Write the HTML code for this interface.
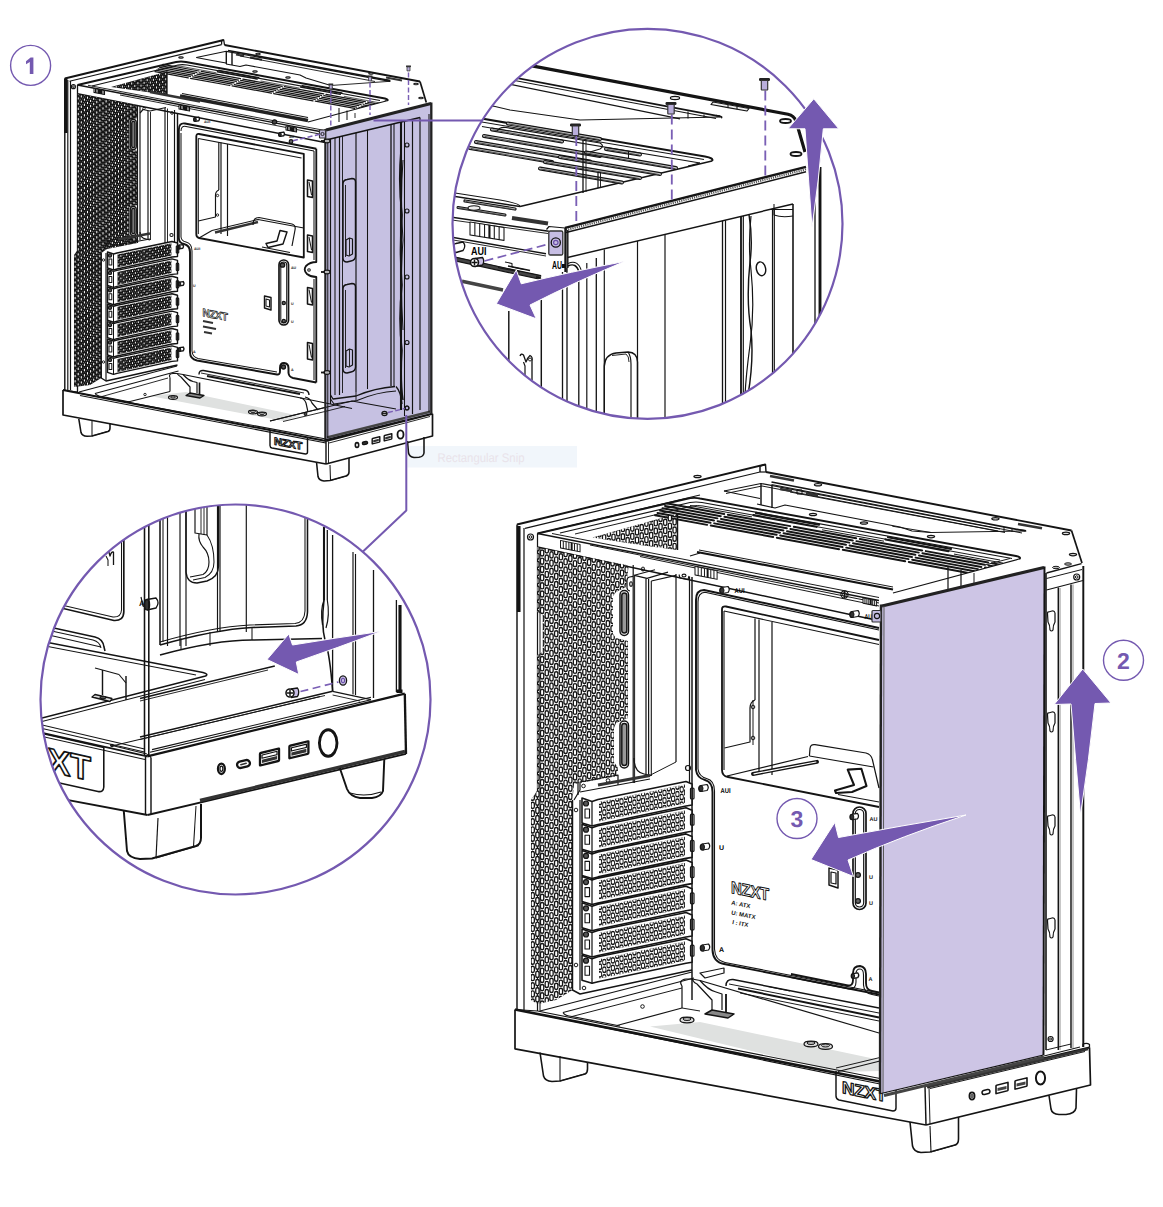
<!DOCTYPE html>
<html><head><meta charset="utf-8"><title>NZXT panel removal</title>
<style>html,body{margin:0;padding:0;background:#fff;overflow:hidden;}svg{display:block}text{text-rendering:geometricPrecision;}</style></head>
<body>
<svg width="1163" height="1207" viewBox="0 0 1163 1207" font-family="Liberation Sans, sans-serif" stroke-linecap="butt" stroke-linejoin="round">
<defs>
<clipPath id="c1"><circle cx="647.5" cy="223.8" r="195"/></clipPath>
<clipPath id="c2"><circle cx="235.5" cy="699.5" r="195"/></clipPath>
</defs>
<rect width="1163" height="1207" fill="#fff"/>
<rect x="407.5" y="446" width="169.5" height="21.5" rx="0" fill="#f1f6fb" stroke="none" stroke-width="0" />
<text x="437.5" y="461.5" font-size="12.5" fill="#e9e3ea" font-weight="normal" text-anchor="start" textLength="87" lengthAdjust="spacingAndGlyphs">Rectangular Snip</text>
<path d="M150 396 L186 392 L300 416 L283 421 Z" fill="#dfe1e0" stroke="none" stroke-width="0" />
<line x1="64.8" y1="78.5" x2="64.8" y2="390" stroke="#141414" stroke-width="1.43" />
<line x1="65.8" y1="78.5" x2="65.8" y2="133" stroke="#141414" stroke-width="3.38" />
<line x1="67.8" y1="80" x2="67.8" y2="390" stroke="#141414" stroke-width="1.17" />
<line x1="70.5" y1="81" x2="70.5" y2="390" stroke="#141414" stroke-width="1.17" />
<line x1="77.5" y1="85" x2="77.5" y2="392" stroke="#141414" stroke-width="1.3" />
<circle cx="73.4" cy="86.7" r="2" fill="none" stroke="#141414" stroke-width="1.17" />
<circle cx="73.4" cy="86.7" r="0.8" fill="none" stroke="#141414" stroke-width="0.91" />
<line x1="64.8" y1="78.5" x2="223.75" y2="40" stroke="#141414" stroke-width="1.95" />
<line x1="69.5" y1="81.2" x2="221.6" y2="44.6" stroke="#141414" stroke-width="1.17" />
<path d="M221.6 44.6 L221.6 40.6 L223.75 40 L224.5 45" fill="none" stroke="#141414" stroke-width="1.3" />
<line x1="224.5" y1="45" x2="420" y2="81.5" stroke="#141414" stroke-width="1.95" />
<line x1="420" y1="81.5" x2="426.3" y2="102.5" stroke="#141414" stroke-width="1.69" />
<path d="M196.3 57.5 L226.3 51.3 L390 81.3" fill="none" stroke="#141414" stroke-width="1.17" />
<path d="M196.3 57.5 L212 60.5 L226 63" fill="none" stroke="#141414" stroke-width="1.17" />
<line x1="226.3" y1="51.3" x2="226.3" y2="64" stroke="#141414" stroke-width="1.43" />
<line x1="232" y1="52.5" x2="232" y2="65" stroke="#141414" stroke-width="1.43" />
<path d="M226 64 L240 66.5 L246 65 L300 75 L306 78 L330.8 85.5" fill="none" stroke="#141414" stroke-width="1.04" />
<line x1="236" y1="54.5" x2="244" y2="56" stroke="#333" stroke-width="2.08" />
<line x1="250" y1="57.5" x2="262" y2="59.8" stroke="#333" stroke-width="2.08" />
<line x1="228" y1="50.5" x2="390" y2="80.5" stroke="#141414" stroke-width="1.69" />
<line x1="240" y1="56" x2="375" y2="81.5" stroke="#141414" stroke-width="0.91" />
<line x1="330.8" y1="85.5" x2="390" y2="81.3" stroke="#141414" stroke-width="0.91" />
<path d="M386 80 Q391 80.2 390 81.5" fill="none" stroke="#141414" stroke-width="1.17" />
<ellipse cx="181" cy="57.5" rx="2.3" ry="0.8" fill="#ccc" stroke="#141414" stroke-width="1.04" />
<ellipse cx="258" cy="54" rx="2.3" ry="0.8" fill="#ccc" stroke="#141414" stroke-width="1.04" />
<ellipse cx="255" cy="71.5" rx="2.3" ry="0.8" fill="#ccc" stroke="#141414" stroke-width="1.04" />
<ellipse cx="288" cy="77.5" rx="2.3" ry="0.8" fill="#ccc" stroke="#141414" stroke-width="1.04" />
<ellipse cx="371" cy="73.5" rx="2.3" ry="0.8" fill="#ccc" stroke="#141414" stroke-width="1.04" />
<ellipse cx="330" cy="88" rx="2.3" ry="0.8" fill="#ccc" stroke="#141414" stroke-width="1.04" />
<ellipse cx="416" cy="84" rx="2.3" ry="0.8" fill="#ccc" stroke="#141414" stroke-width="1.04" />
<ellipse cx="421" cy="98" rx="2.3" ry="0.8" fill="#ccc" stroke="#141414" stroke-width="1.04" />
<line x1="386" y1="77.5" x2="402" y2="80.5" stroke="#333" stroke-width="2.08" />
<path d="M77.5 85 L176 62 Q181 61 186 62 L385 98.5 Q389 99.5 387 100.8" fill="none" stroke="#141414" stroke-width="1.95" />
<path d="M92 86 L178 65 Q182 64.3 187 65 L380 100.5" fill="none" stroke="#141414" stroke-width="1.17" />
<line x1="387" y1="100.8" x2="308" y2="122" stroke="#141414" stroke-width="1.17" />
<clipPath id="vb1"><path d="M120 50 L395 99 L387 100.8 L308 122 L120 88 Z"/></clipPath><g clip-path="url(#vb1)">
<line x1="162.88" y1="64.36" x2="198.97" y2="71" stroke="#161616" stroke-width="1.27" stroke-linecap="round"/>
<line x1="201.23" y1="71.42" x2="240.55" y2="78.65" stroke="#161616" stroke-width="1.27" stroke-linecap="round"/>
<line x1="242.81" y1="79.07" x2="282.13" y2="86.3" stroke="#161616" stroke-width="1.27" stroke-linecap="round"/>
<line x1="284.39" y1="86.72" x2="323.71" y2="93.95" stroke="#161616" stroke-width="1.27" stroke-linecap="round"/>
<line x1="325.97" y1="94.37" x2="365.29" y2="101.6" stroke="#161616" stroke-width="1.27" stroke-linecap="round"/>
<line x1="367.55" y1="102.02" x2="405.2" y2="108.95" stroke="#161616" stroke-width="1.27" stroke-linecap="round"/>
<line x1="161.3" y1="65.83" x2="196.82" y2="72.37" stroke="#161616" stroke-width="1.27" stroke-linecap="round"/>
<line x1="199.09" y1="72.79" x2="238.4" y2="80.02" stroke="#161616" stroke-width="1.27" stroke-linecap="round"/>
<line x1="240.67" y1="80.44" x2="279.98" y2="87.67" stroke="#161616" stroke-width="1.27" stroke-linecap="round"/>
<line x1="282.25" y1="88.09" x2="321.56" y2="95.32" stroke="#161616" stroke-width="1.27" stroke-linecap="round"/>
<line x1="323.83" y1="95.74" x2="363.14" y2="102.97" stroke="#161616" stroke-width="1.27" stroke-linecap="round"/>
<line x1="365.41" y1="103.39" x2="405.2" y2="110.71" stroke="#161616" stroke-width="1.27" stroke-linecap="round"/>
<line x1="159.72" y1="67.31" x2="194.68" y2="73.74" stroke="#161616" stroke-width="1.27" stroke-linecap="round"/>
<line x1="196.95" y1="74.16" x2="236.26" y2="81.39" stroke="#161616" stroke-width="1.27" stroke-linecap="round"/>
<line x1="238.53" y1="81.81" x2="277.84" y2="89.04" stroke="#161616" stroke-width="1.27" stroke-linecap="round"/>
<line x1="280.11" y1="89.46" x2="319.42" y2="96.69" stroke="#161616" stroke-width="1.27" stroke-linecap="round"/>
<line x1="321.69" y1="97.11" x2="361" y2="104.34" stroke="#161616" stroke-width="1.27" stroke-linecap="round"/>
<line x1="363.27" y1="104.76" x2="402.58" y2="111.99" stroke="#161616" stroke-width="1.27" stroke-linecap="round"/>
<line x1="404.85" y1="112.41" x2="405.2" y2="112.48" stroke="#161616" stroke-width="1.27" stroke-linecap="round"/>
<line x1="158.15" y1="68.78" x2="192.54" y2="75.11" stroke="#161616" stroke-width="1.27" stroke-linecap="round"/>
<line x1="194.81" y1="75.53" x2="234.12" y2="82.76" stroke="#161616" stroke-width="1.27" stroke-linecap="round"/>
<line x1="236.39" y1="83.18" x2="275.7" y2="90.41" stroke="#161616" stroke-width="1.27" stroke-linecap="round"/>
<line x1="277.97" y1="90.83" x2="317.28" y2="98.06" stroke="#161616" stroke-width="1.27" stroke-linecap="round"/>
<line x1="319.55" y1="98.48" x2="358.86" y2="105.71" stroke="#161616" stroke-width="1.27" stroke-linecap="round"/>
<line x1="361.13" y1="106.13" x2="400.44" y2="113.36" stroke="#161616" stroke-width="1.27" stroke-linecap="round"/>
<line x1="402.71" y1="113.78" x2="405.2" y2="114.24" stroke="#161616" stroke-width="1.27" stroke-linecap="round"/>
<line x1="156.57" y1="70.26" x2="190.4" y2="76.48" stroke="#161616" stroke-width="1.27" stroke-linecap="round"/>
<line x1="192.67" y1="76.9" x2="231.98" y2="84.13" stroke="#161616" stroke-width="1.27" stroke-linecap="round"/>
<line x1="234.25" y1="84.55" x2="273.56" y2="91.78" stroke="#161616" stroke-width="1.27" stroke-linecap="round"/>
<line x1="275.83" y1="92.2" x2="315.14" y2="99.43" stroke="#161616" stroke-width="1.27" stroke-linecap="round"/>
<line x1="317.41" y1="99.85" x2="356.72" y2="107.08" stroke="#161616" stroke-width="1.27" stroke-linecap="round"/>
<line x1="358.99" y1="107.5" x2="398.3" y2="114.73" stroke="#161616" stroke-width="1.27" stroke-linecap="round"/>
<line x1="400.57" y1="115.15" x2="405.2" y2="116" stroke="#161616" stroke-width="1.27" stroke-linecap="round"/>
<line x1="155" y1="71.73" x2="188.26" y2="77.85" stroke="#161616" stroke-width="1.27" stroke-linecap="round"/>
<line x1="190.52" y1="78.27" x2="229.84" y2="85.5" stroke="#161616" stroke-width="1.27" stroke-linecap="round"/>
<line x1="232.1" y1="85.92" x2="271.42" y2="93.15" stroke="#161616" stroke-width="1.27" stroke-linecap="round"/>
<line x1="273.68" y1="93.57" x2="313" y2="100.8" stroke="#161616" stroke-width="1.27" stroke-linecap="round"/>
<line x1="315.26" y1="101.22" x2="354.58" y2="108.45" stroke="#161616" stroke-width="1.27" stroke-linecap="round"/>
<line x1="356.84" y1="108.87" x2="396.16" y2="116.1" stroke="#161616" stroke-width="1.27" stroke-linecap="round"/>
<line x1="398.42" y1="116.52" x2="405.2" y2="117.77" stroke="#161616" stroke-width="1.27" stroke-linecap="round"/>
<line x1="219" y1="70.34" x2="258.69" y2="77.64" stroke="#161616" stroke-width="1.43" stroke-linecap="round"/>
<line x1="217.43" y1="71.75" x2="257.12" y2="79.05" stroke="#161616" stroke-width="1.43" stroke-linecap="round"/>
<line x1="302.16" y1="85.64" x2="341.85" y2="92.94" stroke="#161616" stroke-width="1.43" stroke-linecap="round"/>
<line x1="300.58" y1="87.05" x2="340.27" y2="94.36" stroke="#161616" stroke-width="1.43" stroke-linecap="round"/>
<line x1="385.32" y1="100.94" x2="425.01" y2="108.25" stroke="#161616" stroke-width="1.43" stroke-linecap="round"/>
<line x1="383.74" y1="102.35" x2="423.43" y2="109.66" stroke="#161616" stroke-width="1.43" stroke-linecap="round"/>
<line x1="177.42" y1="65.65" x2="216.48" y2="72.84" stroke="#141414" stroke-width="0.7" />
<line x1="260.58" y1="80.95" x2="299.64" y2="88.14" stroke="#141414" stroke-width="0.7" />
<line x1="343.74" y1="96.25" x2="380" y2="102.92" stroke="#141414" stroke-width="0.7" />
</g>
<line x1="339" y1="108" x2="339" y2="122" stroke="#141414" stroke-width="1.04" />
<line x1="347" y1="110.5" x2="347" y2="120" stroke="#141414" stroke-width="1.04" />
<line x1="355" y1="113" x2="355" y2="118" stroke="#141414" stroke-width="0.91" />
<clipPath id="mc2"><path d="M111 87 L167 71.5 L167 95 L140 91 Z"/></clipPath>
<g clip-path="url(#mc2)">
<path d="M110 60V96M113.1 62.45V96M116.2 59.69V96M119.3 62.14V96M122.4 59.38V96M125.5 61.83V96M128.6 59.07V96M131.7 61.52V96M134.8 58.76V96M137.9 61.21V96M141 58.45V96M144.1 60.9V96M147.2 58.14V96M150.3 60.59V96M153.4 57.83V96M156.5 60.28V96M159.6 57.52V96M162.7 59.97V96M165.8 57.21V96M168.9 59.66V96" fill="none" stroke="#161616" stroke-width="3.4" stroke-linecap="round" stroke-dasharray="2.4 2.8"/>
<path d="M110 60.58V96M113.1 63.02V96M116.2 60.27V96M119.3 62.71V96M122.4 59.96V96M125.5 62.4V96M128.6 59.65V96M131.7 62.09V96M134.8 59.34V96M137.9 61.78V96M141 59.03V96M144.1 61.47V96M147.2 58.72V96M150.3 61.16V96M153.4 58.41V96M156.5 60.85V96M159.6 58.1V96M162.7 60.54V96M165.8 57.79V96M168.9 60.23V96" fill="none" stroke="#fff" stroke-width="0.95" stroke-linecap="round" stroke-dasharray="1.25 3.95"/>
</g>
<line x1="167" y1="71.5" x2="167" y2="95" stroke="#141414" stroke-width="1.3" />
<line x1="180" y1="96" x2="308" y2="120.5" stroke="#222" stroke-width="3.38" />
<line x1="182" y1="93.5" x2="308" y2="117.5" stroke="#141414" stroke-width="1.04" />
<line x1="150" y1="92" x2="200" y2="101.5" stroke="#333" stroke-width="2.34" />
<line x1="77.5" y1="85" x2="325" y2="132.5" stroke="#141414" stroke-width="1.43" />
<line x1="77.5" y1="93.75" x2="325" y2="142.5" stroke="#141414" stroke-width="1.43" />
<line x1="88" y1="85.3" x2="325" y2="130.5" stroke="#141414" stroke-width="0.91" />
<line x1="120" y1="95" x2="322" y2="134.5" stroke="#141414" stroke-width="0.91" />
<g transform="translate(94 88.5) skewY(11.03)">
<rect x="0" y="0" width="10.54" height="4.03" rx="0" fill="#fff" stroke="#141414" stroke-width="1.04" />
<line x1="1.51" y1="0" x2="1.51" y2="4.03" stroke="#141414" stroke-width="1.04" />
<line x1="3.01" y1="0" x2="3.01" y2="4.03" stroke="#141414" stroke-width="1.04" />
<line x1="4.52" y1="0" x2="4.52" y2="4.03" stroke="#141414" stroke-width="1.04" />
<line x1="6.02" y1="0" x2="6.02" y2="4.03" stroke="#141414" stroke-width="2.08" />
<line x1="7.53" y1="0" x2="7.53" y2="4.03" stroke="#141414" stroke-width="1.04" />
<line x1="9.03" y1="0" x2="9.03" y2="4.03" stroke="#141414" stroke-width="1.04" />
</g>
<g transform="translate(179 105) skewY(11.03)">
<rect x="0" y="0" width="10.54" height="4.03" rx="0" fill="#fff" stroke="#141414" stroke-width="1.04" />
<line x1="1.51" y1="0" x2="1.51" y2="4.03" stroke="#141414" stroke-width="1.04" />
<line x1="3.01" y1="0" x2="3.01" y2="4.03" stroke="#141414" stroke-width="1.04" />
<line x1="4.52" y1="0" x2="4.52" y2="4.03" stroke="#141414" stroke-width="1.04" />
<line x1="6.02" y1="0" x2="6.02" y2="4.03" stroke="#141414" stroke-width="2.08" />
<line x1="7.53" y1="0" x2="7.53" y2="4.03" stroke="#141414" stroke-width="1.04" />
<line x1="9.03" y1="0" x2="9.03" y2="4.03" stroke="#141414" stroke-width="1.04" />
</g>
<g transform="translate(286 126) skewY(11.03)">
<rect x="0" y="0" width="10.54" height="4.03" rx="0" fill="#fff" stroke="#141414" stroke-width="1.04" />
<line x1="1.51" y1="0" x2="1.51" y2="4.03" stroke="#141414" stroke-width="1.04" />
<line x1="3.01" y1="0" x2="3.01" y2="4.03" stroke="#141414" stroke-width="1.04" />
<line x1="4.52" y1="0" x2="4.52" y2="4.03" stroke="#141414" stroke-width="1.04" />
<line x1="6.02" y1="0" x2="6.02" y2="4.03" stroke="#141414" stroke-width="2.08" />
<line x1="7.53" y1="0" x2="7.53" y2="4.03" stroke="#141414" stroke-width="1.04" />
<line x1="9.03" y1="0" x2="9.03" y2="4.03" stroke="#141414" stroke-width="1.04" />
</g>
<circle cx="274.5" cy="122" r="2.2" fill="#444" stroke="#141414" stroke-width="1.17" />
<clipPath id="mc3"><path d="M77.5 93.75 L137.5 105.5 L137.5 118 L129.5 120 L129.5 149 L137.5 151 L137.5 205 L129.5 207 L129.5 235 L137.5 237 L137.5 243 L107 249 L101.25 253 L101.25 378 L90 385 L74 387 L74 255 L77.5 250 Z"/></clipPath>
<g clip-path="url(#mc3)">
<path d="M72 70V392M75.1 73.2V392M78.2 71.21V392M81.3 74.41V392M84.4 72.42V392M87.5 75.62V392M90.6 73.63V392M93.7 76.83V392M96.8 74.84V392M99.9 78.04V392M103 76.04V392M106.1 79.25V392M109.2 77.25V392M112.3 80.46V392M115.4 78.46V392M118.5 81.67V392M121.6 79.67V392M124.7 82.88V392M127.8 80.88V392M130.9 84.09V392M134 82.09V392M137.1 85.29V392" fill="none" stroke="#161616" stroke-width="3.4" stroke-linecap="round" stroke-dasharray="2.4 2.8"/>
<path d="M72 70.53V392M75.1 73.73V392M78.2 71.73V392M81.3 74.94V392M84.4 72.94V392M87.5 76.15V392M90.6 74.15V392M93.7 77.36V392M96.8 75.36V392M99.9 78.57V392M103 76.57V392M106.1 79.77V392M109.2 77.78V392M112.3 80.98V392M115.4 78.99V392M118.5 82.19V392M121.6 80.2V392M124.7 83.4V392M127.8 81.41V392M130.9 84.61V392M134 82.61V392M137.1 85.82V392" fill="none" stroke="#fff" stroke-width="1.05" stroke-linecap="round" stroke-dasharray="1.35 3.85"/>
</g>
<rect x="130.3" y="119.5" width="6" height="30" rx="3" fill="#fff" stroke="#141414" stroke-width="1.3" />
<rect x="131.7" y="121.3" width="3.2" height="26.4" rx="1.6" fill="#777" stroke="#141414" stroke-width="1.3" />
<rect x="130.3" y="206.5" width="6" height="29" rx="3" fill="#fff" stroke="#141414" stroke-width="1.3" />
<rect x="131.7" y="208.3" width="3.2" height="25.4" rx="1.6" fill="#777" stroke="#141414" stroke-width="1.3" />
<line x1="137.5" y1="105.5" x2="137.5" y2="243" stroke="#141414" stroke-width="1.17" />
<line x1="140" y1="106" x2="140" y2="240" stroke="#141414" stroke-width="1.17" />
<line x1="148" y1="111" x2="148" y2="240" stroke="#141414" stroke-width="1.17" />
<line x1="150.5" y1="112" x2="150.5" y2="240" stroke="#141414" stroke-width="0.91" />
<line x1="165" y1="108" x2="165" y2="243" stroke="#141414" stroke-width="1.17" />
<line x1="167.5" y1="108.5" x2="167.5" y2="243" stroke="#141414" stroke-width="0.91" />
<line x1="174.5" y1="110" x2="174.5" y2="244" stroke="#141414" stroke-width="1.17" />
<path d="M140 113 L143 109.5 L150 111 L166 107.5" fill="none" stroke="#141414" stroke-width="1.17" />
<circle cx="144" cy="108.5" r="1.2" fill="none" stroke="#141414" stroke-width="0.91" />
<circle cx="172" cy="113" r="1.3" fill="none" stroke="#141414" stroke-width="0.91" />
<circle cx="171.5" cy="235" r="1.6" fill="none" stroke="#141414" stroke-width="1.04" />
<path d="M140 232 Q140 238 146 239 L150 240" fill="none" stroke="#141414" stroke-width="1.17" />
<line x1="177.5" y1="113" x2="177.5" y2="250" stroke="#141414" stroke-width="1.43" />
<path d="M178.8 130 Q178.8 122.5 185 123.5 L316.3 148.8" fill="none" stroke="#141414" stroke-width="1.95" />
<path d="M181 131 Q181 125.5 186 126.5 L314 151" fill="none" stroke="#141414" stroke-width="1.04" />
<path d="M178.8 130 L178.8 238 Q179 243 184 244 Q190 245.5 190 252 L190 352 Q190 359 197 360.5 L277 374.5 Q280 375 280 371 L280 368 Q280 363 284 363 Q288.5 363.5 288.5 368 L288.5 373 Q289 377 293 378 L316.3 382.5" fill="none" stroke="#141414" stroke-width="1.95" />
<path d="M181 133 L181 237 Q181.5 241 186 242 Q192 243.5 192 251 L192 351 Q192.5 357 198 358.5 L277 372" fill="none" stroke="#141414" stroke-width="1.04" />
<path d="M316.3 148.8 L316.3 262 Q310 262 306 266 Q303 270 307 274 Q311 277 316.3 277 L316.3 382.5" fill="none" stroke="#141414" stroke-width="1.82" />
<path d="M314 151 L314 260" fill="none" stroke="#141414" stroke-width="1.04" />
<path d="M314 279 L314 380" fill="none" stroke="#141414" stroke-width="1.04" />
<circle cx="309" cy="270" r="1.3" fill="none" stroke="#141414" stroke-width="1.04" />
<path d="M196.3 136.5 Q196.3 133.5 199 134 L303.8 153.8 L303.8 257.5 L199 238 Q196.3 237.5 196.3 234 Z" fill="#fff" stroke="#141414" stroke-width="1.82" />
<path d="M198.3 138.5 L301.5 158" fill="none" stroke="#141414" stroke-width="1.04" />
<line x1="198.3" y1="138.5" x2="198.3" y2="234" stroke="#141414" stroke-width="1.04" />
<line x1="199" y1="238" x2="212" y2="230.5" stroke="#141414" stroke-width="1.17" />
<line x1="218.8" y1="142" x2="218.8" y2="190" stroke="#141414" stroke-width="1.17" />
<line x1="221" y1="142.5" x2="221" y2="234" stroke="#141414" stroke-width="1.17" />
<line x1="227.5" y1="144" x2="227.5" y2="236" stroke="#141414" stroke-width="1.17" />
<path d="M218.8 190 Q215.5 191.5 215.5 195 L215.5 217 L198.3 221" fill="none" stroke="#141414" stroke-width="1.17" />
<circle cx="217.5" cy="195.5" r="1.2" fill="none" stroke="#141414" stroke-width="0.91" />
<circle cx="217.5" cy="215" r="1.2" fill="none" stroke="#141414" stroke-width="0.91" />
<path d="M212 230.5 L258 219.5 L303.8 228" fill="none" stroke="#141414" stroke-width="1.17" />
<path d="M215 232.5 L258 222" fill="none" stroke="#333" stroke-width="2.34" />
<path d="M253 225 Q253 217.5 259 217.5 L292 224 Q296 225 295 230 L292 246" fill="none" stroke="#141414" stroke-width="1.17" />
<path d="M268 247.5 L283 244 L287 232 L280 230.5 L277 241 L266 243.5 Z" fill="#fff" stroke="#141414" stroke-width="1.43" />
<line x1="262" y1="247" x2="290" y2="252.5" stroke="#141414" stroke-width="1.17" />
<path d="M307.5 180 L312.5 181 L312.5 197.5 L307.5 196.5 Z" fill="none" stroke="#141414" stroke-width="1.56" />
<line x1="309" y1="182" x2="311.5" y2="195" stroke="#141414" stroke-width="1.04" />
<path d="M307.5 235 L312.5 236 L312.5 252.5 L307.5 251.5 Z" fill="none" stroke="#141414" stroke-width="1.56" />
<line x1="309" y1="237" x2="311.5" y2="250" stroke="#141414" stroke-width="1.04" />
<path d="M307.5 287.5 L312.5 288.5 L312.5 305.0 L307.5 304.0 Z" fill="none" stroke="#141414" stroke-width="1.56" />
<line x1="309" y1="289.5" x2="311.5" y2="302.5" stroke="#141414" stroke-width="1.04" />
<path d="M307.5 342.5 L312.5 343.5 L312.5 360.0 L307.5 359.0 Z" fill="none" stroke="#141414" stroke-width="1.56" />
<line x1="309" y1="344.5" x2="311.5" y2="357.5" stroke="#141414" stroke-width="1.04" />
<rect x="279" y="260" width="9.5" height="65" rx="4.7" fill="#fff" stroke="#141414" stroke-width="1.69" />
<rect x="280.8" y="262" width="5.9" height="61" rx="2.9" fill="none" stroke="#141414" stroke-width="1.04" />
<circle cx="282.5" cy="265" r="2.2" fill="#555" stroke="#141414" stroke-width="1.3" />
<circle cx="283.8" cy="303" r="1.6" fill="#666" stroke="#141414" stroke-width="1.17" />
<circle cx="283.8" cy="321" r="1.6" fill="#666" stroke="#141414" stroke-width="1.17" />
<text x="291" y="269" font-size="3.6" fill="#141414" font-weight="bold" text-anchor="start" >AU</text>
<text x="291" y="305" font-size="3.6" fill="#141414" font-weight="bold" text-anchor="start" >U</text>
<text x="291" y="323" font-size="3.6" fill="#141414" font-weight="bold" text-anchor="start" >U</text>
<text x="291" y="371" font-size="3.6" fill="#141414" font-weight="bold" text-anchor="start" >A</text>
<circle cx="283.5" cy="367" r="2" fill="#555" stroke="#141414" stroke-width="1.3" />
<path d="M264.5 296 L264.5 308 L271 310 L271 297.5 Z" fill="none" stroke="#141414" stroke-width="1.43" />
<path d="M266 299 L269.5 300 L269.5 307 L266 306 Z" fill="none" stroke="#141414" stroke-width="1.04" />
<text transform="translate(202.5 316) skewY(11.31)" font-size="11" font-weight="bold" fill="#fff" stroke="#141414" stroke-width="0.7" letter-spacing="-0.3" textLength="25" lengthAdjust="spacingAndGlyphs">NZXT</text>
<line x1="203" y1="321" x2="213" y2="323" stroke="#333" stroke-width="1.95" />
<line x1="203" y1="326.5" x2="216" y2="329" stroke="#333" stroke-width="1.95" />
<line x1="204" y1="332" x2="212" y2="333.5" stroke="#333" stroke-width="1.95" />
<ellipse cx="195" cy="119.5" rx="1.36" ry="1.86" fill="#222" stroke="#141414" stroke-width="1.3" />
<path d="M195 117.64 L198.72 117.02 Q200.27 118.88 198.72 120.74 L195 121.36" fill="#fff" stroke="#141414" stroke-width="1.3" />
<ellipse cx="195" cy="119.5" rx="1.24" ry="1.74" fill="#333" stroke="#141414" stroke-width="1.04" />
<ellipse cx="179" cy="247" rx="1.36" ry="1.86" fill="#222" stroke="#141414" stroke-width="1.3" />
<path d="M179 245.14 L182.72 244.52 Q184.27 246.38 182.72 248.24 L179 248.86" fill="#fff" stroke="#141414" stroke-width="1.3" />
<ellipse cx="179" cy="247" rx="1.24" ry="1.74" fill="#333" stroke="#141414" stroke-width="1.04" />
<ellipse cx="179.5" cy="284" rx="1.36" ry="1.86" fill="#222" stroke="#141414" stroke-width="1.3" />
<path d="M179.5 282.14 L183.22 281.52 Q184.77 283.38 183.22 285.24 L179.5 285.86" fill="#fff" stroke="#141414" stroke-width="1.3" />
<ellipse cx="179.5" cy="284" rx="1.24" ry="1.74" fill="#333" stroke="#141414" stroke-width="1.04" />
<ellipse cx="179.5" cy="349.5" rx="1.36" ry="1.86" fill="#222" stroke="#141414" stroke-width="1.3" />
<path d="M179.5 347.64 L183.22 347.02 Q184.77 348.88 183.22 350.74 L179.5 351.36" fill="#fff" stroke="#141414" stroke-width="1.3" />
<ellipse cx="179.5" cy="349.5" rx="1.24" ry="1.74" fill="#333" stroke="#141414" stroke-width="1.04" />
<ellipse cx="280" cy="134.5" rx="1.36" ry="1.86" fill="#222" stroke="#141414" stroke-width="1.3" />
<path d="M280 132.64 L283.72 132.02 Q285.27 133.88 283.72 135.74 L280 136.36" fill="#fff" stroke="#141414" stroke-width="1.3" />
<ellipse cx="280" cy="134.5" rx="1.24" ry="1.74" fill="#333" stroke="#141414" stroke-width="1.04" />
<text x="204" y="122.5" font-size="3.6" fill="#141414" font-weight="bold" text-anchor="start" >AUI</text>
<text x="194" y="250" font-size="3.6" fill="#141414" font-weight="bold" text-anchor="start" >AUI</text>
<text x="193" y="287" font-size="3.6" fill="#141414" font-weight="bold" text-anchor="start" >U</text>
<text x="193" y="353" font-size="3.6" fill="#141414" font-weight="bold" text-anchor="start" >A</text>
<text x="289" y="138" font-size="3.6" fill="#141414" font-weight="bold" text-anchor="start" >AU</text>
<path d="M101.25 253 L101.25 378 L106 381 L177.5 365" fill="none" stroke="#141414" stroke-width="1.43" />
<line x1="106" y1="253" x2="106" y2="380" stroke="#141414" stroke-width="1.17" />
<path d="M102 252 L106 246 L106 241 L131 236.5 L131 243" fill="none" stroke="#141414" stroke-width="1.17" />
<line x1="106" y1="247" x2="150" y2="239" stroke="#141414" stroke-width="1.17" />
<circle cx="108.5" cy="243.5" r="1.2" fill="none" stroke="#141414" stroke-width="0.91" />
<circle cx="124" cy="240" r="1.2" fill="none" stroke="#141414" stroke-width="0.91" />
<circle cx="103.5" cy="260" r="1.2" fill="none" stroke="#141414" stroke-width="0.91" />
<circle cx="103.5" cy="362" r="1.2" fill="none" stroke="#141414" stroke-width="0.91" />
<line x1="118" y1="239.5" x2="150" y2="233.5" stroke="#333" stroke-width="2.6" />
<path d="M107.5 252 L113.5 254 L117 253 L172 241.5 L177.5 243 L177.5 256.5 L172 257 L117 269 L113.5 270 L107.5 268 Z" fill="#fff" stroke="#141414" stroke-width="1.43" />
<clipPath id="mc4"><path d="M117.5 254.5 L171.5 243.2 L171.5 255.5 L117.5 267.5 Z"/></clipPath>
<g clip-path="url(#mc4)">
<path d="M118 248V271M120.9 249.92V271M123.8 246.84V271M126.7 248.76V271M129.6 245.68V271M132.5 247.6V271M135.4 244.52V271M138.3 246.44V271M141.2 243.36V271M144.1 245.28V271M147 242.2V271M149.9 244.12V271M152.8 241.04V271M155.7 242.96V271M158.6 239.88V271M161.5 241.8V271M164.4 238.72V271M167.3 240.64V271M170.2 237.56V271" fill="none" stroke="#161616" stroke-width="3.2" stroke-linecap="round" stroke-dasharray="2.2 2.8"/>
<path d="M118 248.65V271M120.9 250.57V271M123.8 247.49V271M126.7 249.41V271M129.6 246.33V271M132.5 248.25V271M135.4 245.17V271M138.3 247.09V271M141.2 244.01V271M144.1 245.93V271M147 242.85V271M149.9 244.77V271M152.8 241.69V271M155.7 243.61V271M158.6 240.53V271M161.5 242.45V271M164.4 239.37V271M167.3 241.29V271M170.2 238.21V271" fill="none" stroke="#fff" stroke-width="1.0" stroke-linecap="round" stroke-dasharray="0.9 4.1"/>
</g>
<line x1="113.5" y1="254" x2="113.5" y2="270" stroke="#141414" stroke-width="1.04" />
<circle cx="110" cy="255.5" r="1.6" fill="#555" stroke="#141414" stroke-width="1.17" />
<rect x="109" y="259" width="2.8" height="6" rx="0" fill="none" stroke="#141414" stroke-width="1.04" />
<rect x="176.3" y="246" width="2.4" height="7" rx="0.5" fill="none" stroke="#141414" stroke-width="1.17" />
<path d="M107.5 269.4 L113.5 271.4 L117 270.4 L172 258.9 L177.5 260.4 L177.5 273.9 L172 274.4 L117 286.4 L113.5 287.4 L107.5 285.4 Z" fill="#fff" stroke="#141414" stroke-width="1.43" />
<clipPath id="mc5"><path d="M117.5 271.9 L171.5 260.6 L171.5 272.9 L117.5 284.9 Z"/></clipPath>
<g clip-path="url(#mc5)">
<path d="M118 265.4V288.4M120.9 267.32V288.4M123.8 264.24V288.4M126.7 266.16V288.4M129.6 263.08V288.4M132.5 265V288.4M135.4 261.92V288.4M138.3 263.84V288.4M141.2 260.76V288.4M144.1 262.68V288.4M147 259.6V288.4M149.9 261.52V288.4M152.8 258.44V288.4M155.7 260.36V288.4M158.6 257.28V288.4M161.5 259.2V288.4M164.4 256.12V288.4M167.3 258.04V288.4M170.2 254.96V288.4" fill="none" stroke="#161616" stroke-width="3.2" stroke-linecap="round" stroke-dasharray="2.2 2.8"/>
<path d="M118 266.05V288.4M120.9 267.97V288.4M123.8 264.89V288.4M126.7 266.81V288.4M129.6 263.73V288.4M132.5 265.65V288.4M135.4 262.57V288.4M138.3 264.49V288.4M141.2 261.41V288.4M144.1 263.33V288.4M147 260.25V288.4M149.9 262.17V288.4M152.8 259.09V288.4M155.7 261.01V288.4M158.6 257.93V288.4M161.5 259.85V288.4M164.4 256.77V288.4M167.3 258.69V288.4M170.2 255.61V288.4" fill="none" stroke="#fff" stroke-width="1.0" stroke-linecap="round" stroke-dasharray="0.9 4.1"/>
</g>
<line x1="113.5" y1="271.4" x2="113.5" y2="287.4" stroke="#141414" stroke-width="1.04" />
<circle cx="110" cy="272.9" r="1.6" fill="#555" stroke="#141414" stroke-width="1.17" />
<rect x="109" y="276.4" width="2.8" height="6" rx="0" fill="none" stroke="#141414" stroke-width="1.04" />
<rect x="176.3" y="263.4" width="2.4" height="7" rx="0.5" fill="none" stroke="#141414" stroke-width="1.17" />
<path d="M107.5 286.8 L113.5 288.8 L117 287.8 L172 276.3 L177.5 277.8 L177.5 291.3 L172 291.8 L117 303.8 L113.5 304.8 L107.5 302.8 Z" fill="#fff" stroke="#141414" stroke-width="1.43" />
<clipPath id="mc6"><path d="M117.5 289.3 L171.5 278 L171.5 290.3 L117.5 302.3 Z"/></clipPath>
<g clip-path="url(#mc6)">
<path d="M118 282.8V305.8M120.9 284.72V305.8M123.8 281.64V305.8M126.7 283.56V305.8M129.6 280.48V305.8M132.5 282.4V305.8M135.4 279.32V305.8M138.3 281.24V305.8M141.2 278.16V305.8M144.1 280.08V305.8M147 277V305.8M149.9 278.92V305.8M152.8 275.84V305.8M155.7 277.76V305.8M158.6 274.68V305.8M161.5 276.6V305.8M164.4 273.52V305.8M167.3 275.44V305.8M170.2 272.36V305.8" fill="none" stroke="#161616" stroke-width="3.2" stroke-linecap="round" stroke-dasharray="2.2 2.8"/>
<path d="M118 283.45V305.8M120.9 285.37V305.8M123.8 282.29V305.8M126.7 284.21V305.8M129.6 281.13V305.8M132.5 283.05V305.8M135.4 279.97V305.8M138.3 281.89V305.8M141.2 278.81V305.8M144.1 280.73V305.8M147 277.65V305.8M149.9 279.57V305.8M152.8 276.49V305.8M155.7 278.41V305.8M158.6 275.33V305.8M161.5 277.25V305.8M164.4 274.17V305.8M167.3 276.09V305.8M170.2 273.01V305.8" fill="none" stroke="#fff" stroke-width="1.0" stroke-linecap="round" stroke-dasharray="0.9 4.1"/>
</g>
<line x1="113.5" y1="288.8" x2="113.5" y2="304.8" stroke="#141414" stroke-width="1.04" />
<circle cx="110" cy="290.3" r="1.6" fill="#555" stroke="#141414" stroke-width="1.17" />
<rect x="109" y="293.8" width="2.8" height="6" rx="0" fill="none" stroke="#141414" stroke-width="1.04" />
<rect x="176.3" y="280.8" width="2.4" height="7" rx="0.5" fill="none" stroke="#141414" stroke-width="1.17" />
<path d="M107.5 304.2 L113.5 306.2 L117 305.2 L172 293.7 L177.5 295.2 L177.5 308.7 L172 309.2 L117 321.2 L113.5 322.2 L107.5 320.2 Z" fill="#fff" stroke="#141414" stroke-width="1.43" />
<clipPath id="mc7"><path d="M117.5 306.7 L171.5 295.4 L171.5 307.7 L117.5 319.7 Z"/></clipPath>
<g clip-path="url(#mc7)">
<path d="M118 300.2V323.2M120.9 302.12V323.2M123.8 299.04V323.2M126.7 300.96V323.2M129.6 297.88V323.2M132.5 299.8V323.2M135.4 296.72V323.2M138.3 298.64V323.2M141.2 295.56V323.2M144.1 297.48V323.2M147 294.4V323.2M149.9 296.32V323.2M152.8 293.24V323.2M155.7 295.16V323.2M158.6 292.08V323.2M161.5 294V323.2M164.4 290.92V323.2M167.3 292.84V323.2M170.2 289.76V323.2" fill="none" stroke="#161616" stroke-width="3.2" stroke-linecap="round" stroke-dasharray="2.2 2.8"/>
<path d="M118 300.85V323.2M120.9 302.77V323.2M123.8 299.69V323.2M126.7 301.61V323.2M129.6 298.53V323.2M132.5 300.45V323.2M135.4 297.37V323.2M138.3 299.29V323.2M141.2 296.21V323.2M144.1 298.13V323.2M147 295.05V323.2M149.9 296.97V323.2M152.8 293.89V323.2M155.7 295.81V323.2M158.6 292.73V323.2M161.5 294.65V323.2M164.4 291.57V323.2M167.3 293.49V323.2M170.2 290.41V323.2" fill="none" stroke="#fff" stroke-width="1.0" stroke-linecap="round" stroke-dasharray="0.9 4.1"/>
</g>
<line x1="113.5" y1="306.2" x2="113.5" y2="322.2" stroke="#141414" stroke-width="1.04" />
<circle cx="110" cy="307.7" r="1.6" fill="#555" stroke="#141414" stroke-width="1.17" />
<rect x="109" y="311.2" width="2.8" height="6" rx="0" fill="none" stroke="#141414" stroke-width="1.04" />
<rect x="176.3" y="298.2" width="2.4" height="7" rx="0.5" fill="none" stroke="#141414" stroke-width="1.17" />
<path d="M107.5 321.6 L113.5 323.6 L117 322.6 L172 311.1 L177.5 312.6 L177.5 326.1 L172 326.6 L117 338.6 L113.5 339.6 L107.5 337.6 Z" fill="#fff" stroke="#141414" stroke-width="1.43" />
<clipPath id="mc8"><path d="M117.5 324.1 L171.5 312.8 L171.5 325.1 L117.5 337.1 Z"/></clipPath>
<g clip-path="url(#mc8)">
<path d="M118 317.6V340.6M120.9 319.52V340.6M123.8 316.44V340.6M126.7 318.36V340.6M129.6 315.28V340.6M132.5 317.2V340.6M135.4 314.12V340.6M138.3 316.04V340.6M141.2 312.96V340.6M144.1 314.88V340.6M147 311.8V340.6M149.9 313.72V340.6M152.8 310.64V340.6M155.7 312.56V340.6M158.6 309.48V340.6M161.5 311.4V340.6M164.4 308.32V340.6M167.3 310.24V340.6M170.2 307.16V340.6" fill="none" stroke="#161616" stroke-width="3.2" stroke-linecap="round" stroke-dasharray="2.2 2.8"/>
<path d="M118 318.25V340.6M120.9 320.17V340.6M123.8 317.09V340.6M126.7 319.01V340.6M129.6 315.93V340.6M132.5 317.85V340.6M135.4 314.77V340.6M138.3 316.69V340.6M141.2 313.61V340.6M144.1 315.53V340.6M147 312.45V340.6M149.9 314.37V340.6M152.8 311.29V340.6M155.7 313.21V340.6M158.6 310.13V340.6M161.5 312.05V340.6M164.4 308.97V340.6M167.3 310.89V340.6M170.2 307.81V340.6" fill="none" stroke="#fff" stroke-width="1.0" stroke-linecap="round" stroke-dasharray="0.9 4.1"/>
</g>
<line x1="113.5" y1="323.6" x2="113.5" y2="339.6" stroke="#141414" stroke-width="1.04" />
<circle cx="110" cy="325.1" r="1.6" fill="#555" stroke="#141414" stroke-width="1.17" />
<rect x="109" y="328.6" width="2.8" height="6" rx="0" fill="none" stroke="#141414" stroke-width="1.04" />
<rect x="176.3" y="315.6" width="2.4" height="7" rx="0.5" fill="none" stroke="#141414" stroke-width="1.17" />
<path d="M107.5 339 L113.5 341 L117 340 L172 328.5 L177.5 330 L177.5 343.5 L172 344 L117 356 L113.5 357 L107.5 355 Z" fill="#fff" stroke="#141414" stroke-width="1.43" />
<clipPath id="mc9"><path d="M117.5 341.5 L171.5 330.2 L171.5 342.5 L117.5 354.5 Z"/></clipPath>
<g clip-path="url(#mc9)">
<path d="M118 335V358M120.9 336.92V358M123.8 333.84V358M126.7 335.76V358M129.6 332.68V358M132.5 334.6V358M135.4 331.52V358M138.3 333.44V358M141.2 330.36V358M144.1 332.28V358M147 329.2V358M149.9 331.12V358M152.8 328.04V358M155.7 329.96V358M158.6 326.88V358M161.5 328.8V358M164.4 325.72V358M167.3 327.64V358M170.2 324.56V358" fill="none" stroke="#161616" stroke-width="3.2" stroke-linecap="round" stroke-dasharray="2.2 2.8"/>
<path d="M118 335.65V358M120.9 337.57V358M123.8 334.49V358M126.7 336.41V358M129.6 333.33V358M132.5 335.25V358M135.4 332.17V358M138.3 334.09V358M141.2 331.01V358M144.1 332.93V358M147 329.85V358M149.9 331.77V358M152.8 328.69V358M155.7 330.61V358M158.6 327.53V358M161.5 329.45V358M164.4 326.37V358M167.3 328.29V358M170.2 325.21V358" fill="none" stroke="#fff" stroke-width="1.0" stroke-linecap="round" stroke-dasharray="0.9 4.1"/>
</g>
<line x1="113.5" y1="341" x2="113.5" y2="357" stroke="#141414" stroke-width="1.04" />
<circle cx="110" cy="342.5" r="1.6" fill="#555" stroke="#141414" stroke-width="1.17" />
<rect x="109" y="346" width="2.8" height="6" rx="0" fill="none" stroke="#141414" stroke-width="1.04" />
<rect x="176.3" y="333" width="2.4" height="7" rx="0.5" fill="none" stroke="#141414" stroke-width="1.17" />
<path d="M107.5 356.4 L113.5 358.4 L117 357.4 L172 345.9 L177.5 347.4 L177.5 360.9 L172 361.4 L117 373.4 L113.5 374.4 L107.5 372.4 Z" fill="#fff" stroke="#141414" stroke-width="1.43" />
<clipPath id="mc10"><path d="M117.5 358.9 L171.5 347.6 L171.5 359.9 L117.5 371.9 Z"/></clipPath>
<g clip-path="url(#mc10)">
<path d="M118 352.4V375.4M120.9 354.32V375.4M123.8 351.24V375.4M126.7 353.16V375.4M129.6 350.08V375.4M132.5 352V375.4M135.4 348.92V375.4M138.3 350.84V375.4M141.2 347.76V375.4M144.1 349.68V375.4M147 346.6V375.4M149.9 348.52V375.4M152.8 345.44V375.4M155.7 347.36V375.4M158.6 344.28V375.4M161.5 346.2V375.4M164.4 343.12V375.4M167.3 345.04V375.4M170.2 341.96V375.4" fill="none" stroke="#161616" stroke-width="3.2" stroke-linecap="round" stroke-dasharray="2.2 2.8"/>
<path d="M118 353.05V375.4M120.9 354.97V375.4M123.8 351.89V375.4M126.7 353.81V375.4M129.6 350.73V375.4M132.5 352.65V375.4M135.4 349.57V375.4M138.3 351.49V375.4M141.2 348.41V375.4M144.1 350.33V375.4M147 347.25V375.4M149.9 349.17V375.4M152.8 346.09V375.4M155.7 348.01V375.4M158.6 344.93V375.4M161.5 346.85V375.4M164.4 343.77V375.4M167.3 345.69V375.4M170.2 342.61V375.4" fill="none" stroke="#fff" stroke-width="1.0" stroke-linecap="round" stroke-dasharray="0.9 4.1"/>
</g>
<line x1="113.5" y1="358.4" x2="113.5" y2="374.4" stroke="#141414" stroke-width="1.04" />
<circle cx="110" cy="359.9" r="1.6" fill="#555" stroke="#141414" stroke-width="1.17" />
<rect x="109" y="363.4" width="2.8" height="6" rx="0" fill="none" stroke="#141414" stroke-width="1.04" />
<rect x="176.3" y="350.4" width="2.4" height="7" rx="0.5" fill="none" stroke="#141414" stroke-width="1.17" />
<line x1="79" y1="392" x2="177" y2="366" stroke="#141414" stroke-width="1.17" />
<line x1="95" y1="393.5" x2="178.5" y2="371" stroke="#141414" stroke-width="1.17" />
<path d="M95 393.5 Q97 396 102 396.5 L130 402" fill="none" stroke="#141414" stroke-width="1.17" />
<line x1="102" y1="396.5" x2="168" y2="378" stroke="#141414" stroke-width="0.91" />
<line x1="128" y1="402" x2="170" y2="391.5" stroke="#141414" stroke-width="1.17" />
<line x1="170" y1="377.5" x2="170" y2="391.5" stroke="#141414" stroke-width="1.17" />
<path d="M170 377.5 Q168 374 173 373.5 L177 373.5 Q179 376 181 377 L190 387 L190 394" fill="none" stroke="#141414" stroke-width="1.17" />
<path d="M177 373.5 L183 374.5 Q188 380 193 381.5 L197 382.5 L197 393" fill="none" stroke="#141414" stroke-width="1.17" />
<path d="M186 395.5 L200 398 L204 395.5 L190 393 Z" fill="#888" stroke="#141414" stroke-width="1.3" />
<line x1="199.5" y1="382.5" x2="199.5" y2="394.5" stroke="#141414" stroke-width="1.69" />
<circle cx="145" cy="394.5" r="1.2" fill="none" stroke="#141414" stroke-width="0.91" />
<ellipse cx="173" cy="397.5" rx="4.5" ry="1.8" fill="#ddd" stroke="#141414" stroke-width="1.17" />
<ellipse cx="173" cy="397" rx="2.6" ry="1" fill="#bbb" stroke="#141414" stroke-width="0.91" />
<ellipse cx="253" cy="412" rx="4.5" ry="1.8" fill="#ddd" stroke="#141414" stroke-width="1.17" />
<ellipse cx="253" cy="411.5" rx="2.6" ry="1" fill="#bbb" stroke="#141414" stroke-width="0.91" />
<ellipse cx="262" cy="414" rx="4.5" ry="1.8" fill="#ddd" stroke="#141414" stroke-width="1.17" />
<ellipse cx="262" cy="413.5" rx="2.6" ry="1" fill="#bbb" stroke="#141414" stroke-width="0.91" />
<path d="M199 374.5 Q199 370 203.5 370.5 L305 390 Q309 391 309 395" fill="none" stroke="#141414" stroke-width="1.43" />
<line x1="201" y1="373" x2="304" y2="393" stroke="#141414" stroke-width="0.91" />
<line x1="207" y1="376" x2="300" y2="394" stroke="#141414" stroke-width="1.82" />
<line x1="183" y1="374.5" x2="316" y2="401" stroke="#141414" stroke-width="1.17" />
<path d="M300 398 Q304 398 306 403 L308 412" fill="none" stroke="#141414" stroke-width="1.17" />
<path d="M305 397 Q310 398 312 403 L318 410" fill="none" stroke="#141414" stroke-width="1.17" />
<circle cx="305.5" cy="414" r="1.4" fill="#555" stroke="#141414" stroke-width="1.04" />
<line x1="270" y1="421" x2="325" y2="407.5" stroke="#141414" stroke-width="1.17" />
<line x1="283" y1="421.5" x2="325" y2="411.5" stroke="#141414" stroke-width="0.91" />
<path d="M63 390 L63 415 L326 464" fill="none" stroke="#141414" stroke-width="1.69" />
<line x1="63" y1="390" x2="326" y2="441" stroke="#141414" stroke-width="1.95" />
<line x1="63" y1="390" x2="77.5" y2="392" stroke="#141414" stroke-width="1.17" />
<line x1="78" y1="393" x2="326" y2="439" stroke="#141414" stroke-width="1.04" />
<line x1="80" y1="395.5" x2="326" y2="443" stroke="#141414" stroke-width="1.04" />
<path d="M78.8 418.8 L81 432.5 Q82 436 87 436.3 L92 436 L108 431.5 Q110 430.8 110 428 L110 423.5" fill="none" stroke="#141414" stroke-width="1.56" />
<line x1="92" y1="421" x2="92" y2="436" stroke="#141414" stroke-width="1.04" />
<line x1="92" y1="436" x2="109" y2="431" stroke="#141414" stroke-width="0.91" />
<path d="M270 430 L270 445.5 Q270 447.5 272 448 L305.5 454 Q307.5 454 307.5 452 L307.5 438" fill="none" stroke="#141414" stroke-width="1.43" />
<text transform="translate(274 444.5) skewY(10.76)" font-size="10.5" font-weight="bold" fill="#fff" stroke="#141414" stroke-width="1.0" letter-spacing="-0.3" textLength="28" lengthAdjust="spacingAndGlyphs">NZXT</text>
<line x1="326" y1="441" x2="432.5" y2="413.75" stroke="#141414" stroke-width="1.95" />
<line x1="329" y1="443" x2="430" y2="416.5" stroke="#141414" stroke-width="0.91" />
<path d="M432.5 413.75 L432.5 436 L326 464" fill="none" stroke="#141414" stroke-width="1.69" />
<line x1="326" y1="441" x2="326" y2="464" stroke="#141414" stroke-width="1.43" />
<line x1="328.5" y1="441.5" x2="328.5" y2="463" stroke="#141414" stroke-width="0.91" />
<ellipse cx="357" cy="445" rx="1.7" ry="2.4" fill="none" stroke="#141414" stroke-width="1.56" />
<rect x="-2.6" y="-1.3" width="5.2" height="2.6" rx="1.3" fill="#333" stroke="#141414" stroke-width="1.43" transform="translate(365 443) rotate(-14)"/>
<rect x="-3.8" y="-2.7" width="7.6" height="5.4" rx="0.3" fill="#fff" stroke="#141414" stroke-width="1.43" transform="translate(376 440.3) skewY(-14)"/>
<rect x="-2.8" y="-0.8" width="5.6" height="2.2" rx="0" fill="#333" stroke="none" stroke-width="0" transform="translate(376 440.3) skewY(-14)"/>
<rect x="-3.8" y="-2.7" width="7.6" height="5.4" rx="0.3" fill="#fff" stroke="#141414" stroke-width="1.43" transform="translate(388 437.3) skewY(-14)"/>
<rect x="-2.8" y="-0.8" width="5.6" height="2.2" rx="0" fill="#333" stroke="none" stroke-width="0" transform="translate(388 437.3) skewY(-14)"/>
<ellipse cx="400.5" cy="434.5" rx="3" ry="4.2" fill="none" stroke="#141414" stroke-width="1.82" />
<path d="M316.5 462 L318 476.5 Q319 480.5 324 481 L330 480.5 L346 476 Q349 475 349 472 L349 458" fill="none" stroke="#141414" stroke-width="1.56" />
<line x1="330" y1="465" x2="330.5" y2="480.5" stroke="#141414" stroke-width="1.04" />
<line x1="330.5" y1="480.5" x2="348" y2="475.5" stroke="#141414" stroke-width="0.91" />
<path d="M407.5 441 L408.5 453 Q409.5 457 414 457.5 L419 457.3 Q423.5 456.5 424 453 L424 437" fill="none" stroke="#141414" stroke-width="1.56" />
<path d="M325 129 L431.5 102.5 L431.5 413.75 L325 440 Z" fill="#c6c1e2" stroke="none" stroke-width="0" />
<line x1="270" y1="421" x2="325" y2="407.5" stroke="#141414" stroke-width="1.17" />
<line x1="326" y1="441" x2="326" y2="410" stroke="#555" stroke-width="0.78" />
<path d="M325 407.5 L352 401 L396 409" fill="none" stroke="#141414" stroke-width="1.17" />
<path d="M325 411.5 L345 406.5" fill="none" stroke="#141414" stroke-width="0.91" />
<line x1="316" y1="401" x2="352" y2="408.5" stroke="#141414" stroke-width="1.04" />
<line x1="326" y1="130" x2="431" y2="103.5" stroke="#222" stroke-width="3.12" />
<line x1="325.3" y1="129" x2="325.3" y2="440" stroke="#222" stroke-width="2.08" />
<line x1="431.3" y1="102.5" x2="431.3" y2="413.75" stroke="#222" stroke-width="2.34" />
<line x1="325" y1="440" x2="431.5" y2="413.75" stroke="#141414" stroke-width="1.3" />
<line x1="327" y1="437.5" x2="431" y2="411.5" stroke="#444" stroke-width="2.34" />
<line x1="326" y1="140" x2="420" y2="117.5" stroke="#141414" stroke-width="1.43" />
<line x1="420" y1="117.5" x2="420" y2="410" stroke="#141414" stroke-width="1.17" />
<line x1="327.8" y1="139.5" x2="327.8" y2="438" stroke="#141414" stroke-width="1.04" />
<line x1="330.5" y1="139" x2="330.5" y2="404" stroke="#141414" stroke-width="1.17" />
<line x1="335" y1="138" x2="335" y2="395" stroke="#141414" stroke-width="1.04" />
<line x1="339.5" y1="137" x2="339.5" y2="395" stroke="#141414" stroke-width="1.17" />
<line x1="342.5" y1="136" x2="342.5" y2="393" stroke="#141414" stroke-width="0.91" />
<line x1="356" y1="133" x2="356" y2="392" stroke="#141414" stroke-width="1.17" />
<line x1="367.5" y1="130" x2="367.5" y2="389" stroke="#141414" stroke-width="1.04" />
<line x1="391" y1="124.5" x2="391" y2="386" stroke="#141414" stroke-width="1.3" />
<line x1="394" y1="124" x2="394" y2="386" stroke="#141414" stroke-width="1.04" />
<line x1="401" y1="122" x2="401" y2="410" stroke="#141414" stroke-width="2.08" />
<line x1="404.5" y1="121.5" x2="404.5" y2="416" stroke="#141414" stroke-width="1.04" />
<line x1="412.5" y1="119.5" x2="412.5" y2="414" stroke="#141414" stroke-width="1.17" />
<line x1="429" y1="114" x2="429" y2="412" stroke="#141414" stroke-width="1.04" />
<path d="M401 150 Q398 185 402 215 Q399 250 402 285 Q398 320 402 350 Q400 380 403 400" fill="none" stroke="#141414" stroke-width="1.56" />
<path d="M403 160 Q400 200 403 240 Q400 280 403 330" fill="none" stroke="#141414" stroke-width="1.04" />
<circle cx="407" cy="145" r="2" fill="#c6c1e2" stroke="#141414" stroke-width="1.17" />
<circle cx="407" cy="211" r="2" fill="#c6c1e2" stroke="#141414" stroke-width="1.17" />
<circle cx="407" cy="277" r="2" fill="#c6c1e2" stroke="#141414" stroke-width="1.17" />
<circle cx="407" cy="342.5" r="2" fill="#c6c1e2" stroke="#141414" stroke-width="1.17" />
<circle cx="407" cy="408" r="2" fill="#c6c1e2" stroke="#141414" stroke-width="1.17" />
<path d="M343 184 Q343 180 347 179.5 L352 178.5 Q355.5 178.5 355.5 182 L355.5 256 Q355.5 260 351 261 L347 262 Q343 262 343 258 Z" fill="none" stroke="#141414" stroke-width="1.43" />
<path d="M345.5 185 L345.5 257" fill="none" stroke="#141414" stroke-width="0.91" />
<path d="M346 240 L349.5 238 L352.5 239 L352.5 254 L349 256 L346 255 Z" fill="none" stroke="#141414" stroke-width="1.17" />
<line x1="349.5" y1="238" x2="349.5" y2="255" stroke="#141414" stroke-width="0.91" />
<path d="M343 289 Q343 285 347 284.5 L352 283.5 Q355.5 283.5 355.5 287 L355.5 367 Q355.5 371 351 372 L347 373 Q343 373 343 369 Z" fill="none" stroke="#141414" stroke-width="1.43" />
<path d="M345.5 290 L345.5 368" fill="none" stroke="#141414" stroke-width="0.91" />
<path d="M346 351 L349.5 349 L352.5 350 L352.5 365 L349 367 L346 366 Z" fill="none" stroke="#141414" stroke-width="1.17" />
<line x1="349.5" y1="349" x2="349.5" y2="366" stroke="#141414" stroke-width="0.91" />
<path d="M330.5 395 L333 399 L356 396 Q375 388 395 386.5" fill="none" stroke="#141414" stroke-width="1.3" />
<path d="M330.5 399 L334 404 L357 400.5 Q377 392 396 391" fill="none" stroke="#141414" stroke-width="1.04" />
<line x1="356" y1="392" x2="356" y2="400.5" stroke="#141414" stroke-width="0.91" />
<path d="M396 386.5 Q401 392 402 404" fill="none" stroke="#141414" stroke-width="1.3" />
<ellipse cx="327" cy="141" rx="3" ry="1.8" fill="#bbb" stroke="#141414" stroke-width="1.17" />
<line x1="321" y1="141" x2="325" y2="141" stroke="#141414" stroke-width="1.82" />
<ellipse cx="327" cy="272" rx="3" ry="1.8" fill="#bbb" stroke="#141414" stroke-width="1.17" />
<line x1="321" y1="272" x2="325" y2="272" stroke="#141414" stroke-width="1.82" />
<ellipse cx="327" cy="372.5" rx="3" ry="1.8" fill="#bbb" stroke="#141414" stroke-width="1.17" />
<line x1="321" y1="372.5" x2="325" y2="372.5" stroke="#141414" stroke-width="1.82" />
<rect x="319.5" y="130" width="6" height="8" rx="0.5" fill="#c4bce0" stroke="#333" stroke-width="1.17" />
<circle cx="322.5" cy="134" r="1.6" fill="none" stroke="#141414" stroke-width="0.91" />
<rect x="406.1" y="65.5" width="4.8" height="1.6" rx="0" fill="#222" stroke="none" stroke-width="0" />
<rect x="407" y="66.9" width="3" height="4" rx="0" fill="#b9aedb" stroke="#333" stroke-width="0.78" />
<line x1="408.5" y1="72.5" x2="408.5" y2="105" stroke="#7a5fb5" stroke-width="1.43" stroke-dasharray="5 2.5"/>
<rect x="367.6" y="75.5" width="4.8" height="1.6" rx="0" fill="#222" stroke="none" stroke-width="0" />
<rect x="368.5" y="76.9" width="3" height="4" rx="0" fill="#b9aedb" stroke="#333" stroke-width="0.78" />
<line x1="370" y1="82.5" x2="370" y2="115" stroke="#7a5fb5" stroke-width="1.43" stroke-dasharray="5 2.5"/>
<rect x="328.4" y="83.5" width="4.8" height="1.6" rx="0" fill="#222" stroke="none" stroke-width="0" />
<rect x="329.3" y="84.9" width="3" height="4" rx="0" fill="#b9aedb" stroke="#333" stroke-width="0.78" />
<line x1="330.8" y1="90.5" x2="330.8" y2="126" stroke="#7a5fb5" stroke-width="1.43" stroke-dasharray="5 2.5"/>
<circle cx="291" cy="141.5" r="1.8" fill="#666" stroke="#141414" stroke-width="1.17" />
<line x1="293" y1="140.7" x2="321" y2="134" stroke="#7a5fb5" stroke-width="1.43" stroke-dasharray="5 2.5"/>
<ellipse cx="384.5" cy="413.5" rx="2.6" ry="2.2" fill="#aaa" stroke="#141414" stroke-width="1.17" />
<line x1="382" y1="413.5" x2="387" y2="413.5" stroke="#141414" stroke-width="0.91" />
<line x1="388" y1="412.5" x2="405" y2="408.5" stroke="#7a5fb5" stroke-width="1.43" stroke-dasharray="5 2.5"/>
<circle cx="407" cy="408" r="1.8" fill="#b9aedb" stroke="#141414" stroke-width="1.17" />
<g clip-path="url(#c1)">
<rect x="440" y="20" width="420" height="420" rx="0" fill="#fff" stroke="none" stroke-width="0" />
<path d="M520 63.6 L788 114.2 Q794 115.5 796 121 L805 152" fill="none" stroke="#141414" stroke-width="3.17" />
<line x1="505" y1="75.7" x2="720" y2="116.3" stroke="#141414" stroke-width="1.72" />
<line x1="505" y1="78.7" x2="716" y2="118.5" stroke="#141414" stroke-width="1.06" />
<path d="M716 115.5 Q724 116.5 721 118" fill="none" stroke="#141414" stroke-width="1.32" />
<line x1="500" y1="82.3" x2="680" y2="118.8" stroke="#141414" stroke-width="1.19" />
<line x1="688" y1="111.5" x2="688" y2="118.5" stroke="#141414" stroke-width="1.06" />
<line x1="704" y1="114.5" x2="704" y2="118" stroke="#141414" stroke-width="1.06" />
<path d="M487.5 108.5 L493 106 L510 110 L580 120 L721 117" fill="none" stroke="#141414" stroke-width="1.19" />
<ellipse cx="675" cy="98" rx="4.6" ry="1.6" fill="#e8e8e8" stroke="#141414" stroke-width="1.19" />
<ellipse cx="785.5" cy="121" rx="5.5" ry="2" fill="#fff" stroke="#141414" stroke-width="1.85" />
<ellipse cx="796" cy="154" rx="5.5" ry="2" fill="#fff" stroke="#141414" stroke-width="1.85" />
<path d="M711 104.5 L728 107.7 L747 111 L749 108.5 L730 105 L713 102 Z" fill="#eee" stroke="#141414" stroke-width="1.19" />
<line x1="728" y1="104.6" x2="728" y2="107.7" stroke="#141414" stroke-width="1.06" />
<line x1="737" y1="106.2" x2="737" y2="109.3" stroke="#141414" stroke-width="1.06" />
<path d="M470 116.5 L705 156.5 Q714 158 712 161" fill="none" stroke="#141414" stroke-width="2.11" />
<line x1="470" y1="120" x2="704" y2="159.5" stroke="#141414" stroke-width="1.06" />
<line x1="482" y1="126.5" x2="700" y2="163" stroke="#141414" stroke-width="1.06" />
<line x1="712" y1="161" x2="520" y2="206.5" stroke="#141414" stroke-width="1.45" />
<line x1="700" y1="163" x2="688" y2="166" stroke="#141414" stroke-width="1.06" />
<line x1="492" y1="129.5" x2="562" y2="141.5" stroke="#141414" stroke-width="4.01" stroke-linecap="round"/>
<line x1="492" y1="129.5" x2="562" y2="141.5" stroke="#cfcfcf" stroke-width="1.77" stroke-linecap="round"/>
<line x1="493" y1="130" x2="561" y2="142" stroke="#444" stroke-width="0.92" stroke-linecap="round"/>
<line x1="484" y1="136" x2="600" y2="156" stroke="#141414" stroke-width="4.01" stroke-linecap="round"/>
<line x1="484" y1="136" x2="600" y2="156" stroke="#cfcfcf" stroke-width="1.77" stroke-linecap="round"/>
<line x1="485" y1="136.5" x2="599" y2="156.5" stroke="#444" stroke-width="0.92" stroke-linecap="round"/>
<line x1="476" y1="142" x2="590" y2="161.5" stroke="#141414" stroke-width="4.01" stroke-linecap="round"/>
<line x1="476" y1="142" x2="590" y2="161.5" stroke="#cfcfcf" stroke-width="1.77" stroke-linecap="round"/>
<line x1="477" y1="142.5" x2="589" y2="162" stroke="#444" stroke-width="0.92" stroke-linecap="round"/>
<line x1="470" y1="148" x2="552" y2="162" stroke="#141414" stroke-width="4.01" stroke-linecap="round"/>
<line x1="470" y1="148" x2="552" y2="162" stroke="#cfcfcf" stroke-width="1.77" stroke-linecap="round"/>
<line x1="471" y1="148.5" x2="551" y2="162.5" stroke="#444" stroke-width="0.92" stroke-linecap="round"/>
<line x1="586" y1="152.5" x2="676" y2="168" stroke="#141414" stroke-width="4.01" stroke-linecap="round"/>
<line x1="586" y1="152.5" x2="676" y2="168" stroke="#cfcfcf" stroke-width="1.77" stroke-linecap="round"/>
<line x1="587" y1="153" x2="675" y2="168.5" stroke="#444" stroke-width="0.92" stroke-linecap="round"/>
<line x1="560" y1="157" x2="660" y2="174" stroke="#141414" stroke-width="4.01" stroke-linecap="round"/>
<line x1="560" y1="157" x2="660" y2="174" stroke="#cfcfcf" stroke-width="1.77" stroke-linecap="round"/>
<line x1="561" y1="157.5" x2="659" y2="174.5" stroke="#444" stroke-width="0.92" stroke-linecap="round"/>
<line x1="545" y1="162" x2="640" y2="178" stroke="#141414" stroke-width="4.01" stroke-linecap="round"/>
<line x1="545" y1="162" x2="640" y2="178" stroke="#cfcfcf" stroke-width="1.77" stroke-linecap="round"/>
<line x1="546" y1="162.5" x2="639" y2="178.5" stroke="#444" stroke-width="0.92" stroke-linecap="round"/>
<line x1="540" y1="168.5" x2="622" y2="182.5" stroke="#141414" stroke-width="4.01" stroke-linecap="round"/>
<line x1="540" y1="168.5" x2="622" y2="182.5" stroke="#cfcfcf" stroke-width="1.77" stroke-linecap="round"/>
<line x1="541" y1="169" x2="621" y2="183" stroke="#444" stroke-width="0.92" stroke-linecap="round"/>
<line x1="606" y1="149" x2="640" y2="154.5" stroke="#141414" stroke-width="4.01" stroke-linecap="round"/>
<line x1="606" y1="149" x2="640" y2="154.5" stroke="#cfcfcf" stroke-width="1.77" stroke-linecap="round"/>
<line x1="607" y1="149.5" x2="639" y2="155" stroke="#444" stroke-width="0.92" stroke-linecap="round"/>
<line x1="508" y1="123.5" x2="600" y2="139" stroke="#141414" stroke-width="4.01" stroke-linecap="round"/>
<line x1="508" y1="123.5" x2="600" y2="139" stroke="#cfcfcf" stroke-width="1.77" stroke-linecap="round"/>
<line x1="509" y1="124" x2="599" y2="139.5" stroke="#444" stroke-width="0.92" stroke-linecap="round"/>
<path d="M497 131 Q500 126.5 506 127.5 L600 143 Q605 146 600 149 L590 152" fill="none" stroke="#141414" stroke-width="1.19" />
<line x1="583" y1="140" x2="583" y2="193" stroke="#141414" stroke-width="1.32" />
<line x1="586" y1="140" x2="586" y2="192" stroke="#141414" stroke-width="0.92" />
<line x1="598" y1="172" x2="598" y2="188" stroke="#141414" stroke-width="1.19" />
<line x1="600.5" y1="172" x2="600.5" y2="187" stroke="#141414" stroke-width="0.92" />
<line x1="628.5" y1="151" x2="628.5" y2="158" stroke="#141414" stroke-width="1.06" />
<line x1="452" y1="196" x2="520" y2="206.5" stroke="#141414" stroke-width="1.45" />
<path d="M455 193 L500 200 Q520 203.5 520 206.5" fill="none" stroke="#141414" stroke-width="1.06" />
<line x1="465" y1="201" x2="515" y2="209" stroke="#141414" stroke-width="3.26" stroke-linecap="round"/>
<line x1="465" y1="201" x2="515" y2="209" stroke="#cfcfcf" stroke-width="1.02" stroke-linecap="round"/>
<line x1="466" y1="201.5" x2="514" y2="209.5" stroke="#444" stroke-width="0.92" stroke-linecap="round"/>
<line x1="458" y1="207.5" x2="505" y2="215" stroke="#141414" stroke-width="3.01" stroke-linecap="round"/>
<line x1="458" y1="207.5" x2="505" y2="215" stroke="#cfcfcf" stroke-width="0.77" stroke-linecap="round"/>
<line x1="459" y1="208" x2="504" y2="215.5" stroke="#444" stroke-width="0.92" stroke-linecap="round"/>
<ellipse cx="474" cy="208" rx="6" ry="2.2" fill="#eee" stroke="#141414" stroke-width="1.06" />
<line x1="452" y1="217.3" x2="548.8" y2="231.3" stroke="#141414" stroke-width="1.45" />
<line x1="452" y1="220" x2="548" y2="233.5" stroke="#141414" stroke-width="0.92" />
<line x1="512" y1="218" x2="548" y2="223.5" stroke="#333" stroke-width="3.96" />
<line x1="452" y1="237.3" x2="546" y2="253.8" stroke="#141414" stroke-width="1.45" />
<line x1="452" y1="239.8" x2="546" y2="256" stroke="#141414" stroke-width="0.92" />
<g transform="translate(470 222) skewY(9.09)">
<rect x="0" y="0" width="34" height="13" rx="0" fill="#fff" stroke="#141414" stroke-width="1.06" />
<line x1="4.86" y1="0" x2="4.86" y2="13" stroke="#141414" stroke-width="1.06" />
<line x1="9.71" y1="0" x2="9.71" y2="13" stroke="#141414" stroke-width="1.06" />
<line x1="14.57" y1="0" x2="14.57" y2="13" stroke="#141414" stroke-width="1.06" />
<line x1="19.43" y1="0" x2="19.43" y2="13" stroke="#141414" stroke-width="2.11" />
<line x1="24.29" y1="0" x2="24.29" y2="13" stroke="#141414" stroke-width="1.06" />
<line x1="29.14" y1="0" x2="29.14" y2="13" stroke="#141414" stroke-width="1.06" />
</g>
<line x1="452" y1="258.2" x2="541" y2="277.5" stroke="#444" stroke-width="3.96" />
<line x1="452" y1="256.5" x2="541" y2="275.7" stroke="#141414" stroke-width="1.19" />
<line x1="452" y1="260.3" x2="541" y2="279.5" stroke="#141414" stroke-width="1.19" />
<path d="M536 277 Q542 277 540.5 280.5" fill="none" stroke="#141414" stroke-width="1.32" />
<line x1="462" y1="281.3" x2="503" y2="290" stroke="#444" stroke-width="3.43" />
<line x1="508" y1="266" x2="530" y2="270.5" stroke="#141414" stroke-width="1.58" />
<line x1="498" y1="267.5" x2="520" y2="272" stroke="#141414" stroke-width="1.06" />
<path d="M505 262 L512 263.5 L512 267 L524 269.5" fill="none" stroke="#141414" stroke-width="1.06" />
<ellipse cx="456" cy="248" rx="3" ry="4.5" fill="none" stroke="#141414" stroke-width="1.32" />
<path d="M456 243.5 L463 242 Q466.5 246 463 250.5 L456 252.5" fill="#fff" stroke="#141414" stroke-width="1.32" />
<text x="471" y="255" font-size="11.5" fill="#000" font-weight="bold" text-anchor="start" textLength="15.5" lengthAdjust="spacingAndGlyphs">AUI</text>
<text x="552" y="268.5" font-size="11.5" fill="#000" font-weight="bold" text-anchor="start" textLength="10" lengthAdjust="spacingAndGlyphs">AU</text>
<path d="M475 258.5 L482.5 257.5 Q485 261 482.5 265 L475 266.5" fill="#c9c0e4" stroke="#141414" stroke-width="1.32" />
<circle cx="474.5" cy="262.5" r="4" fill="#fff" stroke="#141414" stroke-width="1.58" />
<line x1="471.5" y1="262.5" x2="477.5" y2="262.5" stroke="#141414" stroke-width="1.45" />
<line x1="474.5" y1="259.5" x2="474.5" y2="265.5" stroke="#141414" stroke-width="1.45" />
<line x1="484.5" y1="261" x2="549" y2="244" stroke="#7a5fb5" stroke-width="1.72" stroke-dasharray="9 4.5"/>
<path d="M565 227.5 L806 166.5 L806 172 L567 233 Z" fill="#fff" stroke="none" stroke-width="0" />
<line x1="565" y1="227.8" x2="806" y2="166.8" stroke="#141414" stroke-width="2.38" />
<line x1="566" y1="230" x2="806" y2="169.3" stroke="#555" stroke-width="2.11" stroke-dasharray="1.2 1"/>
<line x1="566" y1="232.5" x2="806" y2="171.8" stroke="#141414" stroke-width="1.45" />
<line x1="567.5" y1="257.5" x2="793" y2="204" stroke="#141414" stroke-width="1.45" />
<line x1="793" y1="204" x2="793" y2="420" stroke="#141414" stroke-width="1.58" />
<line x1="770" y1="209.5" x2="793" y2="209.5" stroke="#141414" stroke-width="1.19" />
<line x1="565.5" y1="228" x2="565.5" y2="272" stroke="#141414" stroke-width="2.38" />
<line x1="567.8" y1="230" x2="567.8" y2="268" stroke="#141414" stroke-width="1.45" />
<rect x="548.8" y="231" width="14" height="24" rx="1.5" fill="#c6bde3" stroke="#333" stroke-width="1.32" />
<circle cx="555.8" cy="242.5" r="4.6" fill="#c6bde3" stroke="#141414" stroke-width="1.32" />
<circle cx="555.8" cy="242.5" r="2.2" fill="none" stroke="#6a4fa8" stroke-width="1.19" />
<path d="M546.5 229.5 L549 226.5 L565 228" fill="none" stroke="#141414" stroke-width="1.19" />
<rect x="562" y="264" width="4" height="4" rx="0" fill="#111" stroke="none" stroke-width="0" />
<path d="M568 266 Q576 262 579 272" fill="none" stroke="#141414" stroke-width="1.45" />
<path d="M568 263.5 Q578 259 581.5 271" fill="none" stroke="#141414" stroke-width="1.06" />
<line x1="508.8" y1="311" x2="508.8" y2="425" stroke="#141414" stroke-width="1.45" />
<line x1="541.3" y1="300" x2="541.3" y2="425" stroke="#141414" stroke-width="1.45" />
<line x1="562.5" y1="272" x2="562.5" y2="425" stroke="#141414" stroke-width="1.32" />
<line x1="567" y1="268" x2="567" y2="425" stroke="#141414" stroke-width="1.32" />
<line x1="578.8" y1="270" x2="578.8" y2="425" stroke="#141414" stroke-width="1.32" />
<line x1="586.8" y1="263" x2="586.8" y2="425" stroke="#141414" stroke-width="1.19" />
<line x1="596.3" y1="258" x2="596.3" y2="425" stroke="#141414" stroke-width="1.32" />
<line x1="604.3" y1="249.5" x2="604.3" y2="425" stroke="#141414" stroke-width="1.19" />
<line x1="637.5" y1="241" x2="637.5" y2="425" stroke="#141414" stroke-width="1.19" />
<line x1="665" y1="234.5" x2="665" y2="425" stroke="#141414" stroke-width="1.19" />
<line x1="722.5" y1="221" x2="722.5" y2="425" stroke="#141414" stroke-width="1.32" />
<line x1="725.5" y1="220.3" x2="725.5" y2="425" stroke="#141414" stroke-width="1.19" />
<line x1="741" y1="216.5" x2="741" y2="425" stroke="#141414" stroke-width="1.85" />
<line x1="743.3" y1="216" x2="743.3" y2="425" stroke="#141414" stroke-width="1.19" />
<line x1="772.5" y1="209" x2="772.5" y2="425" stroke="#141414" stroke-width="1.19" />
<line x1="774.3" y1="208.5" x2="774.3" y2="425" stroke="#141414" stroke-width="1.19" />
<line x1="815" y1="168" x2="815" y2="425" stroke="#141414" stroke-width="1.32" />
<line x1="820" y1="167" x2="820" y2="425" stroke="#141414" stroke-width="2.9" />
<path d="M749 214.5 Q753 240 750 262 Q746 300 751 330 Q754 360 748 395" fill="none" stroke="#141414" stroke-width="1.45" />
<path d="M751 216 Q748 245 751 270 Q755 310 750 345 Q746 375 745 395" fill="none" stroke="#141414" stroke-width="1.19" />
<ellipse cx="761" cy="268.8" rx="4.6" ry="7" fill="#fff" stroke="#141414" stroke-width="1.45" transform="rotate(-12 761 268.8)"/>
<path d="M774 204 L774 215 Q782 218 793 216" fill="none" stroke="#141414" stroke-width="1.06" />
<path d="M604.3 420 L604.3 366 Q605 354.5 616 353 L628 352 Q637.5 352.5 637.5 362 L637.5 420" fill="none" stroke="#141414" stroke-width="1.45" />
<path d="M628 352 Q631 356 631 364 L631 420" fill="none" stroke="#141414" stroke-width="1.19" />
<path d="M612 355.5 L626 354 Q629 356 629 362" fill="none" stroke="#141414" stroke-width="0.92" />
<path d="M520 356 Q521 353 523.5 355 L526 362 Q528 357 530 355.5 Q533 357 532 361 L532 380" fill="none" stroke="#141414" stroke-width="1.32" />
<path d="M523.5 362 L525 366 L525 382" fill="none" stroke="#141414" stroke-width="1.19" />
<circle cx="530" cy="359.5" r="1.5" fill="none" stroke="#141414" stroke-width="0.92" />
<line x1="576.3" y1="136" x2="576.3" y2="224.5" stroke="#7a5fb5" stroke-width="1.85" stroke-dasharray="10 5"/>
<rect x="570" y="123.5" width="11" height="3" rx="1.2" fill="#222" stroke="none" stroke-width="0" />
<rect x="572.3" y="126" width="6.4" height="9.5" rx="0.5" fill="#b9aedb" stroke="#333" stroke-width="1.19" />
<line x1="671.8" y1="114.5" x2="671.8" y2="200.5" stroke="#7a5fb5" stroke-width="1.85" stroke-dasharray="10 5"/>
<rect x="665.5" y="102" width="11" height="3" rx="1.2" fill="#222" stroke="none" stroke-width="0" />
<rect x="667.8" y="104.5" width="6.4" height="9.5" rx="0.5" fill="#b9aedb" stroke="#333" stroke-width="1.19" />
<line x1="765.3" y1="90.5" x2="765.3" y2="177" stroke="#7a5fb5" stroke-width="1.85" stroke-dasharray="10 5"/>
<rect x="759" y="78" width="11" height="3" rx="1.2" fill="#222" stroke="none" stroke-width="0" />
<rect x="761.3" y="80.5" width="6.4" height="9.5" rx="0.5" fill="#b9aedb" stroke="#333" stroke-width="1.19" />
</g>
<g clip-path="url(#c2)">
<rect x="30" y="495" width="420" height="420" rx="0" fill="#fff" stroke="none" stroke-width="0" />
<path d="M123.8 500 L123.8 612 Q123.5 621 114 620.5 L40 603" fill="none" stroke="#141414" stroke-width="1.69" />
<path d="M121.5 500 L121.5 610 Q121 617.5 113 617 L40 600" fill="none" stroke="#141414" stroke-width="1.04" />
<path d="M103 551 Q105 546.5 108 549 L110 556 Q111.5 551 113.5 552 L113.5 565" fill="none" stroke="#141414" stroke-width="1.3" />
<path d="M106 556 L108 560 L108 566" fill="none" stroke="#141414" stroke-width="1.04" />
<path d="M40 625 L95 637 Q103 639 104 647 L105 651" fill="none" stroke="#141414" stroke-width="1.56" />
<path d="M40 628.5 L93 640 Q100 642 101 648" fill="none" stroke="#141414" stroke-width="1.04" />
<line x1="40" y1="633" x2="101" y2="647" stroke="#141414" stroke-width="1.04" />
<path d="M40 641 L203 672.5 Q209 674 205.5 676 L40 718.5" fill="none" stroke="#141414" stroke-width="1.56" />
<path d="M40 645 L196 675" fill="none" stroke="#141414" stroke-width="1.04" />
<line x1="40" y1="722" x2="205" y2="679.5" stroke="#141414" stroke-width="1.04" />
<line x1="102.5" y1="670" x2="102.5" y2="695" stroke="#141414" stroke-width="1.43" />
<line x1="126" y1="676" x2="126" y2="700" stroke="#141414" stroke-width="1.43" />
<line x1="119" y1="674.5" x2="126" y2="683" stroke="#141414" stroke-width="1.17" />
<line x1="95" y1="668" x2="119" y2="674.5" stroke="#141414" stroke-width="1.17" />
<path d="M92 697 L110 701.5 L112 698.5 L95 694.5 Z" fill="#ddd" stroke="#141414" stroke-width="1.3" />
<ellipse cx="103" cy="697.5" rx="3" ry="1.2" fill="#555" stroke="#141414" stroke-width="1.04" />
<path d="M141 597 L143 606 L147 608" fill="none" stroke="#141414" stroke-width="1.17" />
<path d="M147 599.5 L156 598 Q160 602.5 156 608 L147 610" fill="#fff" stroke="#141414" stroke-width="1.3" />
<ellipse cx="147" cy="604.7" rx="2.6" ry="5.2" fill="#333" stroke="#141414" stroke-width="1.3" />
<text x="139" y="606" font-size="8" fill="#141414" font-weight="bold" text-anchor="start" >A</text>
<path d="M307.5 505 L307.5 612 Q307 625 296 626 L252 627.5 Q215 629.5 160 645" fill="none" stroke="#141414" stroke-width="1.56" />
<path d="M305 505 L305 611 Q304.5 622.5 295 623.5 L250 625 Q212 627 160 642" fill="none" stroke="#141414" stroke-width="1.04" />
<path d="M160 655 Q215 640 252 640 L322 638.5" fill="none" stroke="#141414" stroke-width="1.43" />
<line x1="252" y1="627.5" x2="252" y2="640" stroke="#141414" stroke-width="1.04" />
<line x1="210" y1="632" x2="210" y2="646" stroke="#141414" stroke-width="1.04" />
<line x1="181" y1="638.5" x2="181" y2="650" stroke="#141414" stroke-width="1.04" />
<path d="M160 505 L160 645" fill="none" stroke="#141414" stroke-width="1.56" />
<path d="M163 505 L163 642" fill="none" stroke="#141414" stroke-width="1.04" />
<line x1="167.5" y1="505" x2="167.5" y2="646" stroke="#141414" stroke-width="1.17" />
<line x1="180" y1="505" x2="180" y2="646" stroke="#141414" stroke-width="1.17" />
<line x1="186" y1="505" x2="186" y2="646" stroke="#141414" stroke-width="1.17" />
<line x1="217.5" y1="505" x2="217.5" y2="632" stroke="#141414" stroke-width="1.17" />
<line x1="220" y1="505" x2="220" y2="632" stroke="#141414" stroke-width="1.17" />
<line x1="246.3" y1="505" x2="246.3" y2="632" stroke="#141414" stroke-width="1.17" />
<path d="M195 505 L195 533 L207 535 L207 505" fill="none" stroke="#141414" stroke-width="1.17" />
<line x1="201" y1="505" x2="201" y2="534" stroke="#141414" stroke-width="0.91" />
<line x1="204" y1="505" x2="204" y2="534.5" stroke="#141414" stroke-width="0.91" />
<path d="M186 505 L186 572 Q187 583 197 583 L207 581 Q218.5 577 218.5 566 L218.5 505" fill="none" stroke="#141414" stroke-width="1.43" />
<path d="M199 534 Q198 541 203 547 Q209 553 209 562 Q209 571 203 574.5 L190 577" fill="none" stroke="#141414" stroke-width="1.17" />
<path d="M207 535 Q214 545 214 562 Q214 573 205 577.5 L193 580" fill="none" stroke="#141414" stroke-width="1.04" />
<line x1="144.5" y1="505" x2="144.5" y2="756" stroke="#141414" stroke-width="1.56" />
<line x1="148.8" y1="505" x2="148.8" y2="756" stroke="#141414" stroke-width="1.56" />
<line x1="324" y1="527" x2="324" y2="600" stroke="#141414" stroke-width="2.08" />
<line x1="327.3" y1="530" x2="327.3" y2="600" stroke="#141414" stroke-width="1.3" />
<path d="M324 600 Q321 625 325 640 Q330 655 332.6 691" fill="none" stroke="#141414" stroke-width="1.56" />
<path d="M327.3 600 Q330 615 326 628" fill="none" stroke="#141414" stroke-width="1.17" />
<path d="M322.5 625 Q320 610 324 600" fill="none" stroke="#141414" stroke-width="1.17" />
<line x1="332.6" y1="535" x2="332.6" y2="691.3" stroke="#141414" stroke-width="1.3" />
<line x1="353" y1="552" x2="353" y2="694.5" stroke="#141414" stroke-width="1.17" />
<line x1="355.5" y1="554" x2="355.5" y2="695" stroke="#141414" stroke-width="1.17" />
<line x1="373.5" y1="570" x2="373.5" y2="698" stroke="#141414" stroke-width="1.3" />
<line x1="396.4" y1="600" x2="396.4" y2="692" stroke="#141414" stroke-width="1.3" />
<line x1="400" y1="605" x2="400" y2="690" stroke="#141414" stroke-width="3.12" />
<rect x="396.5" y="689.5" width="6" height="3.5" rx="0" fill="#111" stroke="none" stroke-width="0" />
<ellipse cx="343" cy="680.5" rx="3.6" ry="4.6" fill="#c6bde3" stroke="#141414" stroke-width="1.3" />
<ellipse cx="343" cy="680.5" rx="1.6" ry="2.2" fill="none" stroke="#6a4fa8" stroke-width="1.04" />
<line x1="140" y1="698.5" x2="274.8" y2="666" stroke="#141414" stroke-width="1.56" />
<line x1="140" y1="701" x2="268" y2="670" stroke="#141414" stroke-width="0.91" />
<line x1="140" y1="737" x2="332.6" y2="691.3" stroke="#141414" stroke-width="1.56" />
<line x1="140" y1="739.5" x2="325" y2="695.5" stroke="#141414" stroke-width="0.91" />
<line x1="332.6" y1="691.3" x2="371" y2="699.7" stroke="#141414" stroke-width="1.3" />
<line x1="332.6" y1="695" x2="360" y2="701" stroke="#141414" stroke-width="0.91" />
<line x1="152" y1="749.6" x2="371" y2="697.3" stroke="#141414" stroke-width="1.17" />
<line x1="150" y1="752.3" x2="371" y2="699.7" stroke="#141414" stroke-width="1.17" />
<line x1="110" y1="745" x2="147" y2="754" stroke="#141414" stroke-width="1.17" />
<circle cx="112" cy="745.5" r="1.3" fill="#333" stroke="#141414" stroke-width="1.04" />
<line x1="112" y1="746" x2="320" y2="696.5" stroke="#141414" stroke-width="1.04" />
<line x1="147.2" y1="756.3" x2="404.8" y2="693.7" stroke="#141414" stroke-width="2.34" />
<line x1="404.8" y1="693.7" x2="406" y2="753.9" stroke="#141414" stroke-width="2.34" />
<line x1="147.5" y1="815" x2="406" y2="753.9" stroke="#141414" stroke-width="1.82" />
<line x1="200" y1="800.5" x2="405" y2="751.5" stroke="#333" stroke-width="3.38" />
<line x1="145.5" y1="757" x2="145.5" y2="814.5" stroke="#141414" stroke-width="1.43" />
<line x1="151" y1="757.5" x2="151" y2="814" stroke="#141414" stroke-width="1.43" />
<path d="M145.5 757 L148 754.5 L151 757.5" fill="none" stroke="#141414" stroke-width="1.17" />
<line x1="147.2" y1="756.3" x2="40" y2="732.3" stroke="#141414" stroke-width="1.82" />
<line x1="145" y1="759.5" x2="40" y2="736" stroke="#141414" stroke-width="1.04" />
<line x1="147.5" y1="815" x2="55" y2="797.7" stroke="#141414" stroke-width="1.82" />
<line x1="40" y1="724.5" x2="144.5" y2="749" stroke="#141414" stroke-width="1.17" />
<line x1="40" y1="728" x2="144.5" y2="752" stroke="#141414" stroke-width="1.17" />
<path d="M40 733 L103.8 747.5 L103.8 787 Q103.5 792.5 98 791.5 L55 782" fill="none" stroke="#141414" stroke-width="1.56" />
<text transform="translate(27 766.5) skewY(12.68)" font-size="34" font-weight="bold" fill="#fff" stroke="#141414" stroke-width="1.7" textLength="64" lengthAdjust="spacingAndGlyphs">ZXT</text>
<ellipse cx="221.4" cy="768.8" rx="3.4" ry="5.2" fill="none" stroke="#141414" stroke-width="2.34" />
<ellipse cx="221.4" cy="768.8" rx="1.4" ry="2.6" fill="none" stroke="#141414" stroke-width="1.17" />
<rect x="-6.5" y="-3.2" width="13" height="6.4" rx="3.2" fill="#fff" stroke="#141414" stroke-width="2.34" transform="translate(243.5 764) rotate(-14)"/>
<rect x="-3.5" y="-0.8" width="7" height="1.6" rx="0.8" fill="#333" stroke="none" stroke-width="0" transform="translate(243.5 764) rotate(-14)"/>
<rect x="-9.5" y="-6.2" width="19" height="12.4" rx="0.6" fill="#fff" stroke="#141414" stroke-width="2.34" transform="translate(269.5 757) skewY(-13.7)"/>
<rect x="-7.5" y="-3.8" width="15" height="3.2" rx="0" fill="#fff" stroke="#141414" stroke-width="1.17" transform="translate(269.5 757) skewY(-13.7)"/>
<rect x="-7.5" y="0.8" width="15" height="3.4" rx="0" fill="#333" stroke="none" stroke-width="0" transform="translate(269.5 757) skewY(-13.7)"/>
<rect x="-9.5" y="-6.2" width="19" height="12.4" rx="0.6" fill="#fff" stroke="#141414" stroke-width="2.34" transform="translate(298.9 749.8) skewY(-13.7)"/>
<rect x="-7.5" y="-3.8" width="15" height="3.2" rx="0" fill="#fff" stroke="#141414" stroke-width="1.17" transform="translate(298.9 749.8) skewY(-13.7)"/>
<rect x="-7.5" y="0.8" width="15" height="3.4" rx="0" fill="#333" stroke="none" stroke-width="0" transform="translate(298.9 749.8) skewY(-13.7)"/>
<ellipse cx="328.2" cy="743" rx="8.8" ry="13.2" fill="none" stroke="#141414" stroke-width="2.86" />
<path d="M123.8 811 L127 851 Q128.5 858 140 859 L152 858.5 L196 846 Q201 844 201 838 L201 804" fill="none" stroke="#141414" stroke-width="1.95" />
<line x1="158" y1="818" x2="156" y2="858" stroke="#141414" stroke-width="1.17" />
<line x1="156" y1="858" x2="199" y2="845.5" stroke="#141414" stroke-width="1.17" />
<line x1="196" y1="806" x2="193.5" y2="846.5" stroke="#141414" stroke-width="1.04" />
<path d="M339.8 768 L347 789 Q350 796.5 360 798 L372 798 Q381 797 383 791 L384.3 759" fill="none" stroke="#141414" stroke-width="1.95" />
<path d="M350 793 Q365 797.5 381 792" fill="none" stroke="#141414" stroke-width="1.04" />
<path d="M291 689 L297.5 688 Q300 692 297.5 696.5 L291 697.5" fill="#c6bde3" stroke="#141414" stroke-width="1.3" />
<circle cx="290" cy="693" r="4" fill="#fff" stroke="#141414" stroke-width="1.56" />
<line x1="287" y1="693" x2="293" y2="693" stroke="#141414" stroke-width="1.43" />
<line x1="290" y1="690" x2="290" y2="696" stroke="#141414" stroke-width="1.43" />
<line x1="300.5" y1="691.5" x2="338.5" y2="682" stroke="#7a5fb5" stroke-width="1.69" stroke-dasharray="8 4.5"/>
</g>
<path d="M650 1026.5 L700 1022 L880 1060 L880 1071 L838 1072 Z" fill="#dfe1e0" stroke="none" stroke-width="0" />
<line x1="517" y1="524.5" x2="517" y2="1010" stroke="#141414" stroke-width="1.46" />
<line x1="518.7" y1="526" x2="518.7" y2="612" stroke="#141414" stroke-width="3.66" />
<line x1="524" y1="528" x2="524" y2="1010" stroke="#141414" stroke-width="1.22" />
<line x1="537.5" y1="533.5" x2="537.5" y2="1011" stroke="#141414" stroke-width="1.22" />
<line x1="540" y1="548" x2="540" y2="1012" stroke="#141414" stroke-width="0.98" />
<circle cx="530.5" cy="537" r="3" fill="none" stroke="#141414" stroke-width="1.22" />
<circle cx="530.5" cy="537" r="1.3" fill="none" stroke="#141414" stroke-width="0.98" />
<line x1="517" y1="524.5" x2="765.5" y2="464.5" stroke="#141414" stroke-width="1.95" />
<line x1="525" y1="528.3" x2="760" y2="472" stroke="#141414" stroke-width="1.22" />
<line x1="537.5" y1="533.5" x2="700" y2="495" stroke="#141414" stroke-width="1.1" />
<path d="M760 472 L760 466 L765.5 464.5 L766 472" fill="none" stroke="#141414" stroke-width="1.46" />
<line x1="760" y1="472" x2="766" y2="472" stroke="#141414" stroke-width="1.22" />
<line x1="766" y1="472" x2="1071.5" y2="530.5" stroke="#141414" stroke-width="1.95" />
<line x1="1071.5" y1="530.5" x2="1082" y2="563" stroke="#141414" stroke-width="1.71" />
<path d="M724 491 L761 483.5 L1000 529" fill="none" stroke="#141414" stroke-width="1.22" />
<path d="M724 491 L738 494 L760 498.5" fill="none" stroke="#141414" stroke-width="1.22" />
<path d="M726 493.5 L762 486 L998 531" fill="none" stroke="#141414" stroke-width="0.98" />
<line x1="761" y1="483.5" x2="761" y2="505" stroke="#141414" stroke-width="1.46" />
<line x1="772" y1="486" x2="772" y2="508" stroke="#141414" stroke-width="1.46" />
<line x1="757" y1="504" x2="775" y2="508" stroke="#141414" stroke-width="1.22" />
<path d="M775 508 L785 505 L900 527 L912 531 L931 532.5" fill="none" stroke="#141414" stroke-width="1.1" />
<line x1="780" y1="489" x2="792" y2="491" stroke="#333" stroke-width="2.44" />
<rect x="797" y="490" width="5" height="4" rx="0" fill="none" stroke="#141414" stroke-width="0.98" />
<line x1="806" y1="493" x2="818" y2="495.5" stroke="#333" stroke-width="2.44" />
<line x1="771.5" y1="482" x2="1025.5" y2="531" stroke="#141414" stroke-width="1.71" />
<line x1="771.5" y1="484.5" x2="1022" y2="533" stroke="#141414" stroke-width="0.98" />
<line x1="790" y1="492" x2="1005" y2="532.5" stroke="#141414" stroke-width="0.98" />
<line x1="931" y1="532.5" x2="1025.5" y2="531" stroke="#141414" stroke-width="0.98" />
<line x1="892.3" y1="526.2" x2="931" y2="532.5" stroke="#141414" stroke-width="0.98" />
<line x1="1004" y1="527" x2="1004" y2="532" stroke="#141414" stroke-width="0.98" />
<line x1="1012" y1="528.5" x2="1012" y2="532" stroke="#141414" stroke-width="0.98" />
<path d="M1020 529.8 Q1027 530 1025.5 531.5" fill="none" stroke="#141414" stroke-width="1.22" />
<ellipse cx="995.4" cy="518.8" rx="3.6" ry="1.2" fill="#ddd" stroke="#141414" stroke-width="1.22" />
<ellipse cx="931" cy="536.6" rx="3.6" ry="1.2" fill="#ddd" stroke="#141414" stroke-width="1.22" />
<ellipse cx="1066" cy="533.4" rx="3.6" ry="1.2" fill="#ddd" stroke="#141414" stroke-width="1.22" />
<ellipse cx="1073" cy="554.6" rx="3.6" ry="1.2" fill="#ddd" stroke="#141414" stroke-width="1.22" />
<ellipse cx="697.5" cy="476.5" rx="3.6" ry="1.2" fill="#ddd" stroke="#141414" stroke-width="1.22" />
<ellipse cx="818" cy="484.7" rx="3.6" ry="1.2" fill="#ddd" stroke="#141414" stroke-width="1.22" />
<ellipse cx="813" cy="514.5" rx="3.6" ry="1.2" fill="#ddd" stroke="#141414" stroke-width="1.22" />
<ellipse cx="864" cy="523" rx="3.6" ry="1.2" fill="#ddd" stroke="#141414" stroke-width="1.22" />
<line x1="1018" y1="524" x2="1042" y2="528.3" stroke="#333" stroke-width="2.68" />
<line x1="770" y1="476" x2="794" y2="480.5" stroke="#333" stroke-width="2.68" />
<path d="M537.5 533.5 L686 499 Q694 497 700 498.5 L1016 556 Q1022 557.5 1019 559" fill="none" stroke="#141414" stroke-width="1.95" />
<path d="M560 533 L690 502.5 Q696 501.5 702 502.5 L1012 558.5" fill="none" stroke="#141414" stroke-width="1.22" />
<path d="M575 534 L692 506 Q697 505 703 506 L1000 560" fill="none" stroke="#141414" stroke-width="0.98" />
<line x1="1019" y1="559" x2="893" y2="593" stroke="#141414" stroke-width="1.22" />
<line x1="1010" y1="558.5" x2="985" y2="565" stroke="#141414" stroke-width="0.98" />
<clipPath id="vb11"><path d="M600 480 L1030 555 L1019 559 L893 593 L600 540 Z"/></clipPath><g clip-path="url(#vb11)">
<line x1="667.5" y1="503.57" x2="724.2" y2="514" stroke="#161616" stroke-width="1.98" stroke-linecap="round"/>
<line x1="727.8" y1="514.66" x2="790.2" y2="526.14" stroke="#161616" stroke-width="1.98" stroke-linecap="round"/>
<line x1="793.8" y1="526.81" x2="856.2" y2="538.29" stroke="#161616" stroke-width="1.98" stroke-linecap="round"/>
<line x1="859.8" y1="538.95" x2="922.2" y2="550.43" stroke="#161616" stroke-width="1.98" stroke-linecap="round"/>
<line x1="925.8" y1="551.1" x2="988.2" y2="562.58" stroke="#161616" stroke-width="1.98" stroke-linecap="round"/>
<line x1="991.8" y1="563.24" x2="1043" y2="572.66" stroke="#161616" stroke-width="1.98" stroke-linecap="round"/>
<line x1="665" y1="505.91" x2="720.8" y2="516.18" stroke="#161616" stroke-width="1.98" stroke-linecap="round"/>
<line x1="724.4" y1="516.84" x2="786.8" y2="528.32" stroke="#161616" stroke-width="1.98" stroke-linecap="round"/>
<line x1="790.4" y1="528.98" x2="852.8" y2="540.46" stroke="#161616" stroke-width="1.98" stroke-linecap="round"/>
<line x1="856.4" y1="541.13" x2="918.8" y2="552.61" stroke="#161616" stroke-width="1.98" stroke-linecap="round"/>
<line x1="922.4" y1="553.27" x2="984.8" y2="564.75" stroke="#161616" stroke-width="1.98" stroke-linecap="round"/>
<line x1="988.4" y1="565.41" x2="1043" y2="575.46" stroke="#161616" stroke-width="1.98" stroke-linecap="round"/>
<line x1="662.5" y1="508.25" x2="717.4" y2="518.35" stroke="#161616" stroke-width="1.98" stroke-linecap="round"/>
<line x1="721" y1="519.01" x2="783.4" y2="530.49" stroke="#161616" stroke-width="1.98" stroke-linecap="round"/>
<line x1="787" y1="531.16" x2="849.4" y2="542.64" stroke="#161616" stroke-width="1.98" stroke-linecap="round"/>
<line x1="853" y1="543.3" x2="915.4" y2="554.78" stroke="#161616" stroke-width="1.98" stroke-linecap="round"/>
<line x1="919" y1="555.44" x2="981.4" y2="566.93" stroke="#161616" stroke-width="1.98" stroke-linecap="round"/>
<line x1="985" y1="567.59" x2="1043" y2="578.26" stroke="#161616" stroke-width="1.98" stroke-linecap="round"/>
<line x1="660" y1="510.59" x2="714" y2="520.52" stroke="#161616" stroke-width="1.98" stroke-linecap="round"/>
<line x1="717.6" y1="521.19" x2="780" y2="532.67" stroke="#161616" stroke-width="1.98" stroke-linecap="round"/>
<line x1="783.6" y1="533.33" x2="846" y2="544.81" stroke="#161616" stroke-width="1.98" stroke-linecap="round"/>
<line x1="849.6" y1="545.47" x2="912" y2="556.96" stroke="#161616" stroke-width="1.98" stroke-linecap="round"/>
<line x1="915.6" y1="557.62" x2="978" y2="569.1" stroke="#161616" stroke-width="1.98" stroke-linecap="round"/>
<line x1="981.6" y1="569.76" x2="1043" y2="581.06" stroke="#161616" stroke-width="1.98" stroke-linecap="round"/>
<line x1="657.5" y1="512.93" x2="710.6" y2="522.7" stroke="#161616" stroke-width="1.98" stroke-linecap="round"/>
<line x1="714.2" y1="523.36" x2="776.6" y2="534.84" stroke="#161616" stroke-width="1.98" stroke-linecap="round"/>
<line x1="780.2" y1="535.5" x2="842.6" y2="546.99" stroke="#161616" stroke-width="1.98" stroke-linecap="round"/>
<line x1="846.2" y1="547.65" x2="908.6" y2="559.13" stroke="#161616" stroke-width="1.98" stroke-linecap="round"/>
<line x1="912.2" y1="559.79" x2="974.6" y2="571.27" stroke="#161616" stroke-width="1.98" stroke-linecap="round"/>
<line x1="978.2" y1="571.94" x2="1040.6" y2="583.42" stroke="#161616" stroke-width="1.98" stroke-linecap="round"/>
<line x1="655" y1="515.27" x2="707.2" y2="524.87" stroke="#161616" stroke-width="1.98" stroke-linecap="round"/>
<line x1="710.8" y1="525.54" x2="773.2" y2="537.02" stroke="#161616" stroke-width="1.98" stroke-linecap="round"/>
<line x1="776.8" y1="537.68" x2="839.2" y2="549.16" stroke="#161616" stroke-width="1.98" stroke-linecap="round"/>
<line x1="842.8" y1="549.82" x2="905.2" y2="561.3" stroke="#161616" stroke-width="1.98" stroke-linecap="round"/>
<line x1="908.8" y1="561.97" x2="971.2" y2="573.45" stroke="#161616" stroke-width="1.98" stroke-linecap="round"/>
<line x1="974.8" y1="574.11" x2="1037.2" y2="585.59" stroke="#161616" stroke-width="1.98" stroke-linecap="round"/>
<line x1="1040.8" y1="586.26" x2="1043" y2="586.66" stroke="#161616" stroke-width="1.98" stroke-linecap="round"/>
<line x1="756" y1="512.95" x2="819" y2="524.54" stroke="#161616" stroke-width="2.22" stroke-linecap="round"/>
<line x1="753.5" y1="515.19" x2="816.5" y2="526.78" stroke="#161616" stroke-width="2.22" stroke-linecap="round"/>
<line x1="888" y1="537.24" x2="951" y2="548.83" stroke="#161616" stroke-width="2.22" stroke-linecap="round"/>
<line x1="885.5" y1="539.48" x2="948.5" y2="551.07" stroke="#161616" stroke-width="2.22" stroke-linecap="round"/>
<line x1="1020" y1="561.53" x2="1083" y2="573.12" stroke="#161616" stroke-width="2.22" stroke-linecap="round"/>
<line x1="1017.5" y1="563.77" x2="1080.5" y2="575.36" stroke="#161616" stroke-width="2.22" stroke-linecap="round"/>
<line x1="690" y1="505.51" x2="752" y2="516.92" stroke="#141414" stroke-width="0.98" />
<line x1="822" y1="529.8" x2="884" y2="541.2" stroke="#141414" stroke-width="0.98" />
<line x1="954" y1="554.08" x2="1003" y2="563.1" stroke="#141414" stroke-width="0.98" />
</g>
<line x1="948" y1="566" x2="948" y2="590" stroke="#141414" stroke-width="1.22" />
<line x1="961" y1="570" x2="961" y2="587" stroke="#141414" stroke-width="1.22" />
<line x1="974" y1="573" x2="974" y2="584" stroke="#141414" stroke-width="0.98" />
<clipPath id="mc12"><path d="M592.5 537.5 L677.5 513.5 L677.5 550 L640 545 Z"/></clipPath>
<g clip-path="url(#mc12)">
<path d="M590 500V552M594.7 503.87V552M599.4 499.53V552M604.1 503.4V552M608.8 499.06V552M613.5 502.93V552M618.2 498.59V552M622.9 502.45V552M627.6 498.12V552M632.3 501.99V552M637 497.65V552M641.7 501.51V552M646.4 497.18V552M651.1 501.05V552M655.8 496.71V552M660.5 500.57V552M665.2 496.24V552M669.9 500.1V552M674.6 495.77V552M679.3 499.63V552" fill="none" stroke="#161616" stroke-width="4.6" stroke-linecap="round" stroke-dasharray="3 5.2"/>
<path d="M590 500.15V552M594.7 504.01V552M599.4 499.68V552M604.1 503.55V552M608.8 499.21V552M613.5 503.07V552M618.2 498.74V552M622.9 502.6V552M627.6 498.27V552M632.3 502.13V552M637 497.8V552M641.7 501.66V552M646.4 497.33V552M651.1 501.19V552M655.8 496.86V552M660.5 500.72V552M665.2 496.39V552M669.9 500.25V552M674.6 495.92V552M679.3 499.78V552" fill="none" stroke="#fff" stroke-width="2.0" stroke-linecap="round" stroke-dasharray="2.7 5.5"/>
</g>
<line x1="677.5" y1="513.5" x2="677.5" y2="550" stroke="#141414" stroke-width="1.46" />
<line x1="697" y1="552" x2="893" y2="589.5" stroke="#141414" stroke-width="2.2" />
<line x1="699" y1="550" x2="893" y2="587" stroke="#141414" stroke-width="0.98" />
<line x1="690" y1="556" x2="700" y2="553" stroke="#141414" stroke-width="1.22" />
<line x1="537.5" y1="533.5" x2="879" y2="600.5" stroke="#141414" stroke-width="1.46" />
<line x1="552" y1="533.5" x2="879" y2="597.5" stroke="#141414" stroke-width="0.98" />
<line x1="537.5" y1="547" x2="879" y2="620.7" stroke="#141414" stroke-width="1.46" />
<line x1="590" y1="545" x2="879" y2="603" stroke="#141414" stroke-width="0.98" />
<line x1="640" y1="556.5" x2="879" y2="606" stroke="#141414" stroke-width="0.98" />
<g transform="translate(560.5 540.5) skewY(11.31)">
<rect x="0" y="0" width="19.55" height="7.47" rx="0" fill="#fff" stroke="#141414" stroke-width="0.98" />
<line x1="2.79" y1="0" x2="2.79" y2="7.47" stroke="#141414" stroke-width="0.98" />
<line x1="5.59" y1="0" x2="5.59" y2="7.47" stroke="#141414" stroke-width="0.98" />
<line x1="8.38" y1="0" x2="8.38" y2="7.47" stroke="#141414" stroke-width="0.98" />
<line x1="11.17" y1="0" x2="11.17" y2="7.47" stroke="#141414" stroke-width="1.95" />
<line x1="13.96" y1="0" x2="13.96" y2="7.47" stroke="#141414" stroke-width="0.98" />
<line x1="16.76" y1="0" x2="16.76" y2="7.47" stroke="#141414" stroke-width="0.98" />
</g>
<g transform="translate(695 566.5) skewY(11.31)">
<rect x="0" y="0" width="22.1" height="8.45" rx="0" fill="#fff" stroke="#141414" stroke-width="0.98" />
<line x1="3.16" y1="0" x2="3.16" y2="8.45" stroke="#141414" stroke-width="0.98" />
<line x1="6.31" y1="0" x2="6.31" y2="8.45" stroke="#141414" stroke-width="0.98" />
<line x1="9.47" y1="0" x2="9.47" y2="8.45" stroke="#141414" stroke-width="0.98" />
<line x1="12.63" y1="0" x2="12.63" y2="8.45" stroke="#141414" stroke-width="1.95" />
<line x1="15.79" y1="0" x2="15.79" y2="8.45" stroke="#141414" stroke-width="0.98" />
<line x1="18.94" y1="0" x2="18.94" y2="8.45" stroke="#141414" stroke-width="0.98" />
</g>
<g transform="translate(863 598) skewY(11.31)">
<rect x="0" y="0" width="13.6" height="5.2" rx="0" fill="#fff" stroke="#141414" stroke-width="0.98" />
<line x1="1.94" y1="0" x2="1.94" y2="5.2" stroke="#141414" stroke-width="0.98" />
<line x1="3.89" y1="0" x2="3.89" y2="5.2" stroke="#141414" stroke-width="0.98" />
<line x1="5.83" y1="0" x2="5.83" y2="5.2" stroke="#141414" stroke-width="0.98" />
<line x1="7.77" y1="0" x2="7.77" y2="5.2" stroke="#141414" stroke-width="1.95" />
<line x1="9.71" y1="0" x2="9.71" y2="5.2" stroke="#141414" stroke-width="0.98" />
<line x1="11.66" y1="0" x2="11.66" y2="5.2" stroke="#141414" stroke-width="0.98" />
</g>
<circle cx="844.5" cy="594.5" r="3.6" fill="none" stroke="#141414" stroke-width="1.1" />
<line x1="844.5" y1="591" x2="844.5" y2="598" stroke="#141414" stroke-width="0.98" />
<circle cx="844.5" cy="594.5" r="2" fill="none" stroke="#141414" stroke-width="0.85" />
<clipPath id="mc13"><path d="M537.5 547 L628.7 565.6 L626 587 L616 592 L613 596 L613 634 L616 638 L628 641 L628 718 L616 723 L614 728 L614 762 L618 768 L618 776 L574 784 L572.5 800 L572.5 990 L556 1000 L537.5 1004 L531 1000 L531 800 L537.5 790 L537.5 655 L542.7 652 L542.7 615 L537.5 612 Z"/></clipPath>
<g clip-path="url(#mc13)">
<path d="M528 520V1012M532.7 525.04V1012M537.4 521.88V1012M542.1 526.92V1012M546.8 523.76V1012M551.5 528.8V1012M556.2 525.64V1012M560.9 530.68V1012M565.6 527.52V1012M570.3 532.56V1012M575 529.4V1012M579.7 534.44V1012M584.4 531.28V1012M589.1 536.32V1012M593.8 533.16V1012M598.5 538.2V1012M603.2 535.04V1012M607.9 540.08V1012M612.6 536.92V1012M617.3 541.96V1012M622 538.8V1012M626.7 543.84V1012M631.4 540.68V1012" fill="none" stroke="#161616" stroke-width="4.6" stroke-linecap="round" stroke-dasharray="3 5.2"/>
<path d="M528 520.15V1012M532.7 525.19V1012M537.4 522.03V1012M542.1 527.07V1012M546.8 523.91V1012M551.5 528.95V1012M556.2 525.79V1012M560.9 530.83V1012M565.6 527.67V1012M570.3 532.71V1012M575 529.55V1012M579.7 534.59V1012M584.4 531.43V1012M589.1 536.47V1012M593.8 533.31V1012M598.5 538.35V1012M603.2 535.19V1012M607.9 540.23V1012M612.6 537.07V1012M617.3 542.11V1012M622 538.95V1012M626.7 543.99V1012M631.4 540.83V1012" fill="none" stroke="#fff" stroke-width="2.0" stroke-linecap="round" stroke-dasharray="2.7 5.5"/>
</g>
<rect x="620" y="590.5" width="8.5" height="45" rx="4.2" fill="#fff" stroke="#141414" stroke-width="1.46" />
<rect x="621.8" y="593" width="5" height="40" rx="2.5" fill="#999" stroke="#141414" stroke-width="1.46" />
<rect x="620" y="721" width="8.5" height="47" rx="4.2" fill="#fff" stroke="#141414" stroke-width="1.46" />
<rect x="621.8" y="723.5" width="5" height="42" rx="2.5" fill="#999" stroke="#141414" stroke-width="1.46" />
<line x1="633.2" y1="565" x2="633.2" y2="783" stroke="#141414" stroke-width="1.22" />
<line x1="634.6" y1="575" x2="634.6" y2="783" stroke="#141414" stroke-width="0.98" />
<path d="M633.2 576.3 L629.5 577 Q627 577.5 627 580.5 L627 588 Q627.3 590.5 630 591" fill="none" stroke="#141414" stroke-width="1.22" />
<ellipse cx="631" cy="584" rx="1.3" ry="2.3" fill="none" stroke="#141414" stroke-width="1.1" />
<path d="M634.3 575.3 L647 578.4 L668 572.2" fill="none" stroke="#141414" stroke-width="1.22" />
<line x1="634.3" y1="575.3" x2="655" y2="569.8" stroke="#141414" stroke-width="1.1" />
<line x1="651.3" y1="581" x2="676" y2="575.3" stroke="#141414" stroke-width="1.22" />
<ellipse cx="643" cy="569" rx="1.4" ry="2" fill="none" stroke="#141414" stroke-width="1.1" />
<line x1="646" y1="578.5" x2="646" y2="776" stroke="#141414" stroke-width="1.22" />
<line x1="648.6" y1="579" x2="648.6" y2="776" stroke="#141414" stroke-width="1.22" />
<line x1="651.3" y1="581" x2="651.3" y2="776" stroke="#141414" stroke-width="1.1" />
<line x1="676" y1="574" x2="676" y2="762" stroke="#141414" stroke-width="1.22" />
<path d="M679 574.5 L680 578 L688 579.5 L689 576" fill="none" stroke="#141414" stroke-width="1.1" />
<ellipse cx="684" cy="575.5" rx="2" ry="1.4" fill="none" stroke="#141414" stroke-width="1.1" />
<line x1="689.5" y1="576.5" x2="689.5" y2="790" stroke="#141414" stroke-width="1.22" />
<line x1="692" y1="577" x2="692" y2="1000" stroke="#141414" stroke-width="1.46" />
<path d="M634 758 Q634 772 644 774 L651 775.5" fill="none" stroke="#141414" stroke-width="1.22" />
<path d="M648.6 776 L676 762" fill="none" stroke="#141414" stroke-width="0.98" />
<circle cx="688" cy="768" r="2.5" fill="none" stroke="#141414" stroke-width="1.22" />
<path d="M696 600 Q696 590 704 590 L879 628" fill="none" stroke="#141414" stroke-width="1.95" />
<path d="M698 602 Q698 592.5 705 592.3 L879 630" fill="none" stroke="#141414" stroke-width="1.1" />
<path d="M696 600 L696 770 Q697 778 705 780 Q712.5 782 712.5 792 L712.5 950 Q713 962 724 964 L879 994.5" fill="none" stroke="#141414" stroke-width="1.95" />
<path d="M698 602 L698 769 Q699 776.5 706.5 778.5 Q714.5 780.5 714.5 791 L714.5 949 Q715 960.5 725 962.5 L879 992.7" fill="none" stroke="#141414" stroke-width="1.1" />
<path d="M722 609 Q722 606 726 606.5 L879 640" fill="none" stroke="#141414" stroke-width="1.83" />
<path d="M724 611 L879 644.5" fill="none" stroke="#141414" stroke-width="1.1" />
<path d="M722 609 L722 770 Q722 776 728 777 L879 807" fill="none" stroke="#141414" stroke-width="1.83" />
<path d="M724 611 L724 770" fill="none" stroke="#141414" stroke-width="1.1" />
<line x1="755" y1="618.5" x2="755" y2="700" stroke="#141414" stroke-width="1.22" />
<line x1="759" y1="619.5" x2="759" y2="771" stroke="#141414" stroke-width="1.22" />
<line x1="772" y1="622" x2="772" y2="775" stroke="#141414" stroke-width="1.22" />
<path d="M755 700 Q750 702 750 708 L750 742 L724.5 748" fill="none" stroke="#141414" stroke-width="1.22" />
<path d="M753 700 L753 745" fill="none" stroke="#141414" stroke-width="0.98" />
<circle cx="753" cy="707" r="1.8" fill="none" stroke="#141414" stroke-width="0.98" />
<circle cx="753" cy="738" r="1.8" fill="none" stroke="#141414" stroke-width="0.98" />
<line x1="727" y1="776" x2="808" y2="756.5" stroke="#141414" stroke-width="1.22" />
<path d="M809.4 756 L810 748.5 Q810.5 744 815 744.7 L866 753 Q871.5 754.5 872.5 760 L879 788" fill="#fff" stroke="#141414" stroke-width="1.22" />
<line x1="809.4" y1="756" x2="873.5" y2="767" stroke="#141414" stroke-width="1.1" />
<line x1="753" y1="774" x2="817" y2="761.8" stroke="#141414" stroke-width="3.9" stroke-linecap="round"/>
<line x1="754" y1="773.8" x2="816" y2="762" stroke="#fff" stroke-width="1.22" stroke-linecap="round"/>
<path d="M847.7 769.6 L861.4 768.7 L866.5 786 L852 792 L836 793 L835 790.5 L854 785 Z" fill="#fff" stroke="#141414" stroke-width="2.07" />
<line x1="838" y1="794.5" x2="879" y2="802" stroke="#141414" stroke-width="1.1" />
<ellipse cx="722" cy="590.5" rx="2.2" ry="3" fill="#222" stroke="#141414" stroke-width="1.22" />
<path d="M722 587.5 L728 586.5 Q730.5 589.5 728 592.5 L722 593.5" fill="#fff" stroke="#141414" stroke-width="1.22" />
<ellipse cx="722" cy="590.5" rx="2" ry="2.8" fill="#333" stroke="#141414" stroke-width="0.98" />
<text x="734.5" y="593" font-size="7" fill="#000" font-weight="bold" text-anchor="start" textLength="10" lengthAdjust="spacingAndGlyphs">AUI</text>
<ellipse cx="701" cy="788.5" rx="2.2" ry="3" fill="#222" stroke="#141414" stroke-width="1.22" />
<path d="M701 785.5 L707 784.5 Q709.5 787.5 707 790.5 L701 791.5" fill="#fff" stroke="#141414" stroke-width="1.22" />
<ellipse cx="701" cy="788.5" rx="2" ry="2.8" fill="#333" stroke="#141414" stroke-width="0.98" />
<text x="720.5" y="792.5" font-size="7" fill="#000" font-weight="bold" text-anchor="start" textLength="10" lengthAdjust="spacingAndGlyphs">AUI</text>
<ellipse cx="702.5" cy="847" rx="2.2" ry="3" fill="#222" stroke="#141414" stroke-width="1.22" />
<path d="M702.5 844 L708.5 843 Q711 846 708.5 849 L702.5 850" fill="#fff" stroke="#141414" stroke-width="1.22" />
<ellipse cx="702.5" cy="847" rx="2" ry="2.8" fill="#333" stroke="#141414" stroke-width="0.98" />
<text x="719" y="850" font-size="7" fill="#000" font-weight="bold" text-anchor="start" >U</text>
<ellipse cx="702.5" cy="948" rx="2.2" ry="3" fill="#222" stroke="#141414" stroke-width="1.22" />
<path d="M702.5 945 L708.5 944 Q711 947 708.5 950 L702.5 951" fill="#fff" stroke="#141414" stroke-width="1.22" />
<ellipse cx="702.5" cy="948" rx="2" ry="2.8" fill="#333" stroke="#141414" stroke-width="0.98" />
<text x="719" y="952" font-size="7" fill="#000" font-weight="bold" text-anchor="start" >A</text>
<ellipse cx="852" cy="614.5" rx="2.2" ry="3" fill="#222" stroke="#141414" stroke-width="1.22" />
<path d="M852 611.5 L858 610.5 Q860.5 613.5 858 616.5 L852 617.5" fill="#fff" stroke="#141414" stroke-width="1.22" />
<ellipse cx="852" cy="614.5" rx="2" ry="2.8" fill="#333" stroke="#141414" stroke-width="0.98" />
<text x="864.5" y="618.5" font-size="7" fill="#000" font-weight="bold" text-anchor="start" textLength="7.5" lengthAdjust="spacingAndGlyphs">AU</text>
<text transform="translate(731 893) skewY(11.31)" font-size="17" font-weight="bold" fill="#fff" stroke="#141414" stroke-width="1.0" letter-spacing="-0.3" textLength="38" lengthAdjust="spacingAndGlyphs">NZXT</text>
<text x="731" y="904.5" font-size="6" fill="#141414" font-weight="bold" text-anchor="start" transform="rotate(11 731 904.5)">A: ATX</text>
<text x="731" y="914.5" font-size="6" fill="#141414" font-weight="bold" text-anchor="start" transform="rotate(11 731 914.5)">U: MATX</text>
<text x="732" y="924" font-size="6" fill="#141414" font-weight="bold" text-anchor="start" transform="rotate(11 732 924)">I : ITX</text>
<rect x="853" y="807" width="13" height="102.5" rx="6.5" fill="#fff" stroke="#141414" stroke-width="1.71" />
<rect x="855.3" y="809.5" width="8.4" height="97.5" rx="4.2" fill="#fff" stroke="#141414" stroke-width="1.22" />
<ellipse cx="852" cy="817" rx="1.98" ry="2.7" fill="#222" stroke="#141414" stroke-width="1.22" />
<path d="M852 814.3 L857.4 813.4 Q859.65 816.1 857.4 818.8 L852 819.7" fill="#fff" stroke="#141414" stroke-width="1.22" />
<ellipse cx="852" cy="817" rx="1.8" ry="2.52" fill="#333" stroke="#141414" stroke-width="0.98" />
<text x="869.5" y="821" font-size="5.5" fill="#141414" font-weight="bold" text-anchor="start" >AU</text>
<circle cx="858" cy="875" r="2.4" fill="#666" stroke="#141414" stroke-width="1.22" />
<text x="869" y="879" font-size="5.5" fill="#141414" font-weight="bold" text-anchor="start" >U</text>
<circle cx="858" cy="901" r="2.4" fill="#666" stroke="#141414" stroke-width="1.22" />
<text x="869" y="905" font-size="5.5" fill="#141414" font-weight="bold" text-anchor="start" >U</text>
<path d="M829 868 L829 885 L838 888 L838 870 Z" fill="none" stroke="#141414" stroke-width="1.46" />
<path d="M831 872 L836 873 L836 884 L831 883 Z" fill="none" stroke="#141414" stroke-width="1.22" />
<path d="M791 974 L848 985.5 Q853 986 853 980 L853 973 Q853 966 860 966 Q866 967 866 974 L866 983 Q866 990 872 991 L879 992.5" fill="none" stroke="#141414" stroke-width="1.83" />
<path d="M791 977.5 L849 989 Q856 989.5 856 982 L856 974 Q856 969 860 969 Q863.5 969 863.5 975 L863.5 985 Q864 993 872 994.5 L879 996" fill="none" stroke="#141414" stroke-width="1.1" />
<ellipse cx="853" cy="976" rx="1.76" ry="2.4" fill="#222" stroke="#141414" stroke-width="1.22" />
<path d="M853 973.6 L857.8 972.8 Q859.8 975.2 857.8 977.6 L853 978.4" fill="#fff" stroke="#141414" stroke-width="1.22" />
<ellipse cx="853" cy="976" rx="1.6" ry="2.24" fill="#333" stroke="#141414" stroke-width="0.98" />
<text x="868.5" y="981" font-size="5.5" fill="#141414" font-weight="bold" text-anchor="start" >A</text>
<path d="M572.5 800 L572.5 990 L580 994 L692 970" fill="none" stroke="#141414" stroke-width="1.46" />
<path d="M578 782 L578 795" fill="none" stroke="#141414" stroke-width="1.22" />
<path d="M574 800 L580 790 L580 782 L618 775 L618 785" fill="none" stroke="#141414" stroke-width="1.22" />
<line x1="580" y1="792" x2="650" y2="779" stroke="#141414" stroke-width="1.22" />
<circle cx="583.5" cy="786" r="1.8" fill="none" stroke="#141414" stroke-width="0.98" />
<circle cx="608" cy="780.5" r="1.8" fill="none" stroke="#141414" stroke-width="0.98" />
<circle cx="576" cy="810" r="1.8" fill="none" stroke="#141414" stroke-width="0.98" />
<circle cx="576" cy="965" r="1.8" fill="none" stroke="#141414" stroke-width="0.98" />
<circle cx="584" cy="988" r="1.8" fill="none" stroke="#141414" stroke-width="0.98" />
<path d="M580 800 L580 990" fill="none" stroke="#141414" stroke-width="1.22" />
<path d="M582 798 L592 801.5 L598 799.5 L686 781.5 L692 784 L692 805 L686 806 L598 824.5 L592 826 L582 823 Z" fill="#fff" stroke="#141414" stroke-width="1.59" />
<clipPath id="mc14"><path d="M599 802 L685 784.4 L685 803.5 L599 821.5 Z"/></clipPath>
<g clip-path="url(#mc14)">
<path d="M600 793V827M604.3 795.94V827M608.6 791.28V827M612.9 794.22V827M617.2 789.56V827M621.5 792.5V827M625.8 787.84V827M630.1 790.78V827M634.4 786.12V827M638.7 789.06V827M643 784.4V827M647.3 787.34V827M651.6 782.68V827M655.9 785.62V827M660.2 780.96V827M664.5 783.9V827M668.8 779.24V827M673.1 782.18V827M677.4 777.52V827M681.7 780.46V827M686 775.8V827" fill="none" stroke="#161616" stroke-width="4.1" stroke-linecap="round" stroke-dasharray="2.8 4.8"/>
<path d="M600 793.6V827M604.3 796.54V827M608.6 791.88V827M612.9 794.82V827M617.2 790.16V827M621.5 793.1V827M625.8 788.44V827M630.1 791.38V827M634.4 786.72V827M638.7 789.66V827M643 785V827M647.3 787.94V827M651.6 783.28V827M655.9 786.22V827M660.2 781.56V827M664.5 784.5V827M668.8 779.84V827M673.1 782.78V827M677.4 778.12V827M681.7 781.06V827M686 776.4V827" fill="none" stroke="#fff" stroke-width="2.3" stroke-linecap="round" stroke-dasharray="1.6 6"/>
</g>
<line x1="592" y1="801.5" x2="592" y2="826" stroke="#141414" stroke-width="1.22" />
<circle cx="586" cy="803.5" r="2.5" fill="#555" stroke="#141414" stroke-width="1.22" />
<rect x="585" y="809" width="4.5" height="9" rx="0" fill="none" stroke="#141414" stroke-width="1.1" />
<rect x="690.5" y="788" width="3.5" height="11" rx="1" fill="none" stroke="#141414" stroke-width="1.22" />
<path d="M582 824.2 L592 827.7 L598 825.7 L686 807.7 L692 810.2 L692 831.2 L686 832.2 L598 850.7 L592 852.2 L582 849.2 Z" fill="#fff" stroke="#141414" stroke-width="1.59" />
<clipPath id="mc15"><path d="M599 828.2 L685 810.6 L685 829.7 L599 847.7 Z"/></clipPath>
<g clip-path="url(#mc15)">
<path d="M600 819.2V853.2M604.3 822.14V853.2M608.6 817.48V853.2M612.9 820.42V853.2M617.2 815.76V853.2M621.5 818.7V853.2M625.8 814.04V853.2M630.1 816.98V853.2M634.4 812.32V853.2M638.7 815.26V853.2M643 810.6V853.2M647.3 813.54V853.2M651.6 808.88V853.2M655.9 811.82V853.2M660.2 807.16V853.2M664.5 810.1V853.2M668.8 805.44V853.2M673.1 808.38V853.2M677.4 803.72V853.2M681.7 806.66V853.2M686 802V853.2" fill="none" stroke="#161616" stroke-width="4.1" stroke-linecap="round" stroke-dasharray="2.8 4.8"/>
<path d="M600 819.8V853.2M604.3 822.74V853.2M608.6 818.08V853.2M612.9 821.02V853.2M617.2 816.36V853.2M621.5 819.3V853.2M625.8 814.64V853.2M630.1 817.58V853.2M634.4 812.92V853.2M638.7 815.86V853.2M643 811.2V853.2M647.3 814.14V853.2M651.6 809.48V853.2M655.9 812.42V853.2M660.2 807.76V853.2M664.5 810.7V853.2M668.8 806.04V853.2M673.1 808.98V853.2M677.4 804.32V853.2M681.7 807.26V853.2M686 802.6V853.2" fill="none" stroke="#fff" stroke-width="2.3" stroke-linecap="round" stroke-dasharray="1.6 6"/>
</g>
<line x1="592" y1="827.7" x2="592" y2="852.2" stroke="#141414" stroke-width="1.22" />
<circle cx="586" cy="829.7" r="2.5" fill="#555" stroke="#141414" stroke-width="1.22" />
<rect x="585" y="835.2" width="4.5" height="9" rx="0" fill="none" stroke="#141414" stroke-width="1.1" />
<rect x="690.5" y="814.2" width="3.5" height="11" rx="1" fill="none" stroke="#141414" stroke-width="1.22" />
<path d="M582 850.4 L592 853.9 L598 851.9 L686 833.9 L692 836.4 L692 857.4 L686 858.4 L598 876.9 L592 878.4 L582 875.4 Z" fill="#fff" stroke="#141414" stroke-width="1.59" />
<clipPath id="mc16"><path d="M599 854.4 L685 836.8 L685 855.9 L599 873.9 Z"/></clipPath>
<g clip-path="url(#mc16)">
<path d="M600 845.4V879.4M604.3 848.34V879.4M608.6 843.68V879.4M612.9 846.62V879.4M617.2 841.96V879.4M621.5 844.9V879.4M625.8 840.24V879.4M630.1 843.18V879.4M634.4 838.52V879.4M638.7 841.46V879.4M643 836.8V879.4M647.3 839.74V879.4M651.6 835.08V879.4M655.9 838.02V879.4M660.2 833.36V879.4M664.5 836.3V879.4M668.8 831.64V879.4M673.1 834.58V879.4M677.4 829.92V879.4M681.7 832.86V879.4M686 828.2V879.4" fill="none" stroke="#161616" stroke-width="4.1" stroke-linecap="round" stroke-dasharray="2.8 4.8"/>
<path d="M600 846V879.4M604.3 848.94V879.4M608.6 844.28V879.4M612.9 847.22V879.4M617.2 842.56V879.4M621.5 845.5V879.4M625.8 840.84V879.4M630.1 843.78V879.4M634.4 839.12V879.4M638.7 842.06V879.4M643 837.4V879.4M647.3 840.34V879.4M651.6 835.68V879.4M655.9 838.62V879.4M660.2 833.96V879.4M664.5 836.9V879.4M668.8 832.24V879.4M673.1 835.18V879.4M677.4 830.52V879.4M681.7 833.46V879.4M686 828.8V879.4" fill="none" stroke="#fff" stroke-width="2.3" stroke-linecap="round" stroke-dasharray="1.6 6"/>
</g>
<line x1="592" y1="853.9" x2="592" y2="878.4" stroke="#141414" stroke-width="1.22" />
<circle cx="586" cy="855.9" r="2.5" fill="#555" stroke="#141414" stroke-width="1.22" />
<rect x="585" y="861.4" width="4.5" height="9" rx="0" fill="none" stroke="#141414" stroke-width="1.1" />
<rect x="690.5" y="840.4" width="3.5" height="11" rx="1" fill="none" stroke="#141414" stroke-width="1.22" />
<path d="M582 876.6 L592 880.1 L598 878.1 L686 860.1 L692 862.6 L692 883.6 L686 884.6 L598 903.1 L592 904.6 L582 901.6 Z" fill="#fff" stroke="#141414" stroke-width="1.59" />
<clipPath id="mc17"><path d="M599 880.6 L685 863 L685 882.1 L599 900.1 Z"/></clipPath>
<g clip-path="url(#mc17)">
<path d="M600 871.6V905.6M604.3 874.54V905.6M608.6 869.88V905.6M612.9 872.82V905.6M617.2 868.16V905.6M621.5 871.1V905.6M625.8 866.44V905.6M630.1 869.38V905.6M634.4 864.72V905.6M638.7 867.66V905.6M643 863V905.6M647.3 865.94V905.6M651.6 861.28V905.6M655.9 864.22V905.6M660.2 859.56V905.6M664.5 862.5V905.6M668.8 857.84V905.6M673.1 860.78V905.6M677.4 856.12V905.6M681.7 859.06V905.6M686 854.4V905.6" fill="none" stroke="#161616" stroke-width="4.1" stroke-linecap="round" stroke-dasharray="2.8 4.8"/>
<path d="M600 872.2V905.6M604.3 875.14V905.6M608.6 870.48V905.6M612.9 873.42V905.6M617.2 868.76V905.6M621.5 871.7V905.6M625.8 867.04V905.6M630.1 869.98V905.6M634.4 865.32V905.6M638.7 868.26V905.6M643 863.6V905.6M647.3 866.54V905.6M651.6 861.88V905.6M655.9 864.82V905.6M660.2 860.16V905.6M664.5 863.1V905.6M668.8 858.44V905.6M673.1 861.38V905.6M677.4 856.72V905.6M681.7 859.66V905.6M686 855V905.6" fill="none" stroke="#fff" stroke-width="2.3" stroke-linecap="round" stroke-dasharray="1.6 6"/>
</g>
<line x1="592" y1="880.1" x2="592" y2="904.6" stroke="#141414" stroke-width="1.22" />
<circle cx="586" cy="882.1" r="2.5" fill="#555" stroke="#141414" stroke-width="1.22" />
<rect x="585" y="887.6" width="4.5" height="9" rx="0" fill="none" stroke="#141414" stroke-width="1.1" />
<rect x="690.5" y="866.6" width="3.5" height="11" rx="1" fill="none" stroke="#141414" stroke-width="1.22" />
<path d="M582 902.8 L592 906.3 L598 904.3 L686 886.3 L692 888.8 L692 909.8 L686 910.8 L598 929.3 L592 930.8 L582 927.8 Z" fill="#fff" stroke="#141414" stroke-width="1.59" />
<clipPath id="mc18"><path d="M599 906.8 L685 889.2 L685 908.3 L599 926.3 Z"/></clipPath>
<g clip-path="url(#mc18)">
<path d="M600 897.8V931.8M604.3 900.74V931.8M608.6 896.08V931.8M612.9 899.02V931.8M617.2 894.36V931.8M621.5 897.3V931.8M625.8 892.64V931.8M630.1 895.58V931.8M634.4 890.92V931.8M638.7 893.86V931.8M643 889.2V931.8M647.3 892.14V931.8M651.6 887.48V931.8M655.9 890.42V931.8M660.2 885.76V931.8M664.5 888.7V931.8M668.8 884.04V931.8M673.1 886.98V931.8M677.4 882.32V931.8M681.7 885.26V931.8M686 880.6V931.8" fill="none" stroke="#161616" stroke-width="4.1" stroke-linecap="round" stroke-dasharray="2.8 4.8"/>
<path d="M600 898.4V931.8M604.3 901.34V931.8M608.6 896.68V931.8M612.9 899.62V931.8M617.2 894.96V931.8M621.5 897.9V931.8M625.8 893.24V931.8M630.1 896.18V931.8M634.4 891.52V931.8M638.7 894.46V931.8M643 889.8V931.8M647.3 892.74V931.8M651.6 888.08V931.8M655.9 891.02V931.8M660.2 886.36V931.8M664.5 889.3V931.8M668.8 884.64V931.8M673.1 887.58V931.8M677.4 882.92V931.8M681.7 885.86V931.8M686 881.2V931.8" fill="none" stroke="#fff" stroke-width="2.3" stroke-linecap="round" stroke-dasharray="1.6 6"/>
</g>
<line x1="592" y1="906.3" x2="592" y2="930.8" stroke="#141414" stroke-width="1.22" />
<circle cx="586" cy="908.3" r="2.5" fill="#555" stroke="#141414" stroke-width="1.22" />
<rect x="585" y="913.8" width="4.5" height="9" rx="0" fill="none" stroke="#141414" stroke-width="1.1" />
<rect x="690.5" y="892.8" width="3.5" height="11" rx="1" fill="none" stroke="#141414" stroke-width="1.22" />
<path d="M582 929 L592 932.5 L598 930.5 L686 912.5 L692 915 L692 936 L686 937 L598 955.5 L592 957 L582 954 Z" fill="#fff" stroke="#141414" stroke-width="1.59" />
<clipPath id="mc19"><path d="M599 933 L685 915.4 L685 934.5 L599 952.5 Z"/></clipPath>
<g clip-path="url(#mc19)">
<path d="M600 924V958M604.3 926.94V958M608.6 922.28V958M612.9 925.22V958M617.2 920.56V958M621.5 923.5V958M625.8 918.84V958M630.1 921.78V958M634.4 917.12V958M638.7 920.06V958M643 915.4V958M647.3 918.34V958M651.6 913.68V958M655.9 916.62V958M660.2 911.96V958M664.5 914.9V958M668.8 910.24V958M673.1 913.18V958M677.4 908.52V958M681.7 911.46V958M686 906.8V958" fill="none" stroke="#161616" stroke-width="4.1" stroke-linecap="round" stroke-dasharray="2.8 4.8"/>
<path d="M600 924.6V958M604.3 927.54V958M608.6 922.88V958M612.9 925.82V958M617.2 921.16V958M621.5 924.1V958M625.8 919.44V958M630.1 922.38V958M634.4 917.72V958M638.7 920.66V958M643 916V958M647.3 918.94V958M651.6 914.28V958M655.9 917.22V958M660.2 912.56V958M664.5 915.5V958M668.8 910.84V958M673.1 913.78V958M677.4 909.12V958M681.7 912.06V958M686 907.4V958" fill="none" stroke="#fff" stroke-width="2.3" stroke-linecap="round" stroke-dasharray="1.6 6"/>
</g>
<line x1="592" y1="932.5" x2="592" y2="957" stroke="#141414" stroke-width="1.22" />
<circle cx="586" cy="934.5" r="2.5" fill="#555" stroke="#141414" stroke-width="1.22" />
<rect x="585" y="940" width="4.5" height="9" rx="0" fill="none" stroke="#141414" stroke-width="1.1" />
<rect x="690.5" y="919" width="3.5" height="11" rx="1" fill="none" stroke="#141414" stroke-width="1.22" />
<path d="M582 955.2 L592 958.7 L598 956.7 L686 938.7 L692 941.2 L692 962.2 L686 963.2 L598 981.7 L592 983.2 L582 980.2 Z" fill="#fff" stroke="#141414" stroke-width="1.59" />
<clipPath id="mc20"><path d="M599 959.2 L685 941.6 L685 960.7 L599 978.7 Z"/></clipPath>
<g clip-path="url(#mc20)">
<path d="M600 950.2V984.2M604.3 953.14V984.2M608.6 948.48V984.2M612.9 951.42V984.2M617.2 946.76V984.2M621.5 949.7V984.2M625.8 945.04V984.2M630.1 947.98V984.2M634.4 943.32V984.2M638.7 946.26V984.2M643 941.6V984.2M647.3 944.54V984.2M651.6 939.88V984.2M655.9 942.82V984.2M660.2 938.16V984.2M664.5 941.1V984.2M668.8 936.44V984.2M673.1 939.38V984.2M677.4 934.72V984.2M681.7 937.66V984.2M686 933V984.2" fill="none" stroke="#161616" stroke-width="4.1" stroke-linecap="round" stroke-dasharray="2.8 4.8"/>
<path d="M600 950.8V984.2M604.3 953.74V984.2M608.6 949.08V984.2M612.9 952.02V984.2M617.2 947.36V984.2M621.5 950.3V984.2M625.8 945.64V984.2M630.1 948.58V984.2M634.4 943.92V984.2M638.7 946.86V984.2M643 942.2V984.2M647.3 945.14V984.2M651.6 940.48V984.2M655.9 943.42V984.2M660.2 938.76V984.2M664.5 941.7V984.2M668.8 937.04V984.2M673.1 939.98V984.2M677.4 935.32V984.2M681.7 938.26V984.2M686 933.6V984.2" fill="none" stroke="#fff" stroke-width="2.3" stroke-linecap="round" stroke-dasharray="1.6 6"/>
</g>
<line x1="592" y1="958.7" x2="592" y2="983.2" stroke="#141414" stroke-width="1.22" />
<circle cx="586" cy="960.7" r="2.5" fill="#555" stroke="#141414" stroke-width="1.22" />
<rect x="585" y="966.2" width="4.5" height="9" rx="0" fill="none" stroke="#141414" stroke-width="1.1" />
<rect x="690.5" y="945.2" width="3.5" height="11" rx="1" fill="none" stroke="#141414" stroke-width="1.22" />
<line x1="598" y1="785" x2="650" y2="775.5" stroke="#333" stroke-width="3.05" />
<path d="M700 973 L724 968 L724 973 L705 978 Z" fill="none" stroke="#141414" stroke-width="1.22" />
<line x1="540" y1="1011" x2="692" y2="972" stroke="#141414" stroke-width="1.22" />
<line x1="563" y1="1012.5" x2="694" y2="978" stroke="#141414" stroke-width="1.22" />
<path d="M563 1012.5 Q565 1016 572 1016.5 L620 1026" fill="none" stroke="#141414" stroke-width="1.22" />
<line x1="572" y1="1016.5" x2="682" y2="988" stroke="#141414" stroke-width="0.98" />
<line x1="617" y1="1025.5" x2="682" y2="1008" stroke="#141414" stroke-width="1.22" />
<line x1="682" y1="986" x2="682" y2="1008" stroke="#141414" stroke-width="1.22" />
<path d="M682 986 Q678 980 686 979 L692 979 Q694 983 697 984 L712 1000 L712 1012" fill="none" stroke="#141414" stroke-width="1.22" />
<path d="M682 1008 L700 1011" fill="none" stroke="#141414" stroke-width="0.98" />
<path d="M692 979 L700 980.5 Q708 990 716 992 L722 994 L722 1010" fill="none" stroke="#141414" stroke-width="1.22" />
<path d="M705 1014 L728 1018 L734 1014 L712 1010 Z" fill="#888" stroke="#141414" stroke-width="1.46" />
<line x1="726" y1="994" x2="726" y2="1012" stroke="#141414" stroke-width="1.83" />
<circle cx="642.5" cy="1006.5" r="1.8" fill="none" stroke="#141414" stroke-width="0.98" />
<ellipse cx="687" cy="1020" rx="7" ry="2.8" fill="#ddd" stroke="#141414" stroke-width="1.22" />
<ellipse cx="687" cy="1019" rx="4" ry="1.5" fill="#bbb" stroke="#141414" stroke-width="0.98" />
<ellipse cx="811" cy="1044" rx="7" ry="2.8" fill="#ddd" stroke="#141414" stroke-width="1.22" />
<ellipse cx="811" cy="1043" rx="4" ry="1.5" fill="#bbb" stroke="#141414" stroke-width="0.98" />
<ellipse cx="825.5" cy="1046.5" rx="7" ry="2.8" fill="#ddd" stroke="#141414" stroke-width="1.22" />
<ellipse cx="825.5" cy="1045.5" rx="4" ry="1.5" fill="#bbb" stroke="#141414" stroke-width="0.98" />
<path d="M726 986 Q726 979 733 979.5 L879 1008" fill="none" stroke="#141414" stroke-width="1.46" />
<line x1="729" y1="984" x2="879" y2="1013" stroke="#141414" stroke-width="0.98" />
<line x1="738" y1="988.5" x2="879" y2="1017.5" stroke="#141414" stroke-width="1.95" />
<line x1="740" y1="993" x2="879" y2="1021" stroke="#141414" stroke-width="0.98" />
<line x1="700" y1="980.5" x2="879" y2="1033" stroke="#141414" stroke-width="1.22" />
<line x1="768" y1="986.5" x2="790" y2="991" stroke="#141414" stroke-width="0.98" />
<path d="M515 1009.5 L515 1048.8 L926 1125" fill="none" stroke="#141414" stroke-width="1.71" />
<line x1="515" y1="1009.5" x2="537.5" y2="1011" stroke="#141414" stroke-width="1.22" />
<line x1="515" y1="1009.5" x2="880" y2="1081.5" stroke="#141414" stroke-width="2.68" />
<line x1="537.5" y1="1011" x2="880" y2="1078.5" stroke="#141414" stroke-width="1.1" />
<line x1="540" y1="1014.5" x2="880" y2="1084" stroke="#141414" stroke-width="1.1" />
<line x1="838" y1="1071.5" x2="880" y2="1061" stroke="#141414" stroke-width="1.22" />
<line x1="836" y1="1068" x2="880" y2="1057.5" stroke="#141414" stroke-width="0.98" />
<path d="M540 1052.5 L543.5 1076 Q545 1081 552 1081.5 L560 1081 L585 1074 Q587.5 1073 587.5 1069 L587.5 1062" fill="none" stroke="#141414" stroke-width="1.59" />
<line x1="560" y1="1056" x2="560" y2="1081" stroke="#141414" stroke-width="1.1" />
<line x1="560" y1="1081" x2="586" y2="1073.5" stroke="#141414" stroke-width="0.98" />
<path d="M836 1071 L836 1096 Q836 1099 839 1100 L893 1111 Q896 1111 896 1108 L896 1089" fill="none" stroke="#141414" stroke-width="1.46" />
<text transform="translate(842 1093) skewY(11.31)" font-size="17" font-weight="bold" fill="#fff" stroke="#141414" stroke-width="1.25" letter-spacing="-0.3" textLength="44" lengthAdjust="spacingAndGlyphs">NZXT</text>
<line x1="1083.3" y1="566" x2="1083.3" y2="1047" stroke="#141414" stroke-width="1.95" />
<line x1="1046" y1="573" x2="1046" y2="1050" stroke="#141414" stroke-width="1.59" />
<line x1="1058.3" y1="587.5" x2="1058.3" y2="1050" stroke="#141414" stroke-width="1.46" />
<line x1="1060" y1="588" x2="1060" y2="1050" stroke="#666" stroke-width="0.73" />
<line x1="1071" y1="584.5" x2="1071" y2="1048" stroke="#141414" stroke-width="1.46" />
<line x1="1073" y1="584.5" x2="1073" y2="1048" stroke="#666" stroke-width="0.73" />
<line x1="1046.5" y1="573" x2="1081.5" y2="563.6" stroke="#141414" stroke-width="1.46" />
<line x1="1046.5" y1="578.5" x2="1082" y2="569.5" stroke="#141414" stroke-width="0.98" />
<line x1="1046.5" y1="590" x2="1083" y2="580.5" stroke="#141414" stroke-width="1.22" />
<circle cx="1076.7" cy="577" r="3" fill="none" stroke="#141414" stroke-width="1.22" />
<circle cx="1076.7" cy="577" r="1.3" fill="none" stroke="#141414" stroke-width="0.98" />
<ellipse cx="1056" cy="567.5" rx="3.5" ry="1.2" fill="#bbb" stroke="#141414" stroke-width="0.98" />
<ellipse cx="1068" cy="564" rx="3.5" ry="1.2" fill="#bbb" stroke="#141414" stroke-width="0.98" />
<path d="M1048.5 612 Q1047.5 611.5 1047.5 614 L1048 622 Q1050 625 1050 630 Q1051.5 632 1053 630 Q1053 625 1055 622 L1055 613 Q1054.5 610.5 1052 611 Z" fill="#fff" stroke="#141414" stroke-width="1.22" />
<path d="M1048.5 713 Q1047.5 712.5 1047.5 715 L1048 723 Q1050 726 1050 731 Q1051.5 733 1053 731 Q1053 726 1055 723 L1055 714 Q1054.5 711.5 1052 712 Z" fill="#fff" stroke="#141414" stroke-width="1.22" />
<path d="M1048.5 816 Q1047.5 815.5 1047.5 818 L1048 826 Q1050 829 1050 834 Q1051.5 836 1053 834 Q1053 829 1055 826 L1055 817 Q1054.5 814.5 1052 815 Z" fill="#fff" stroke="#141414" stroke-width="1.22" />
<path d="M1048.5 919 Q1047.5 918.5 1047.5 921 L1048 929 Q1050 932 1050 937 Q1051.5 939 1053 937 Q1053 932 1055 929 L1055 920 Q1054.5 917.5 1052 918 Z" fill="#fff" stroke="#141414" stroke-width="1.22" />
<circle cx="1050.6" cy="1039" r="2.5" fill="none" stroke="#141414" stroke-width="1.22" />
<circle cx="1050.6" cy="1039" r="1" fill="none" stroke="#141414" stroke-width="0.98" />
<path d="M925 1086 L1089.5 1047.5" fill="none" stroke="#141414" stroke-width="1.95" />
<line x1="927" y1="1087.3" x2="1088" y2="1049" stroke="#333" stroke-width="2.68" />
<line x1="930" y1="1088.5" x2="1085" y2="1051.5" stroke="#141414" stroke-width="0.98" />
<path d="M1089.5 1047.5 L1090.5 1085 L926 1125" fill="none" stroke="#141414" stroke-width="1.71" />
<line x1="925" y1="1086" x2="926" y2="1125" stroke="#141414" stroke-width="1.46" />
<line x1="929" y1="1087" x2="930" y2="1124" stroke="#141414" stroke-width="0.98" />
<path d="M1083 1047 L1083 1044 Q1087 1042.5 1089.5 1044.5 L1089.5 1047.5" fill="none" stroke="#141414" stroke-width="1.22" />
<line x1="1044" y1="1056" x2="1080" y2="1047" stroke="#141414" stroke-width="1.22" />
<line x1="1046" y1="1050" x2="1071" y2="1044" stroke="#141414" stroke-width="0.98" />
<line x1="884" y1="1095.5" x2="1044" y2="1057" stroke="#444" stroke-width="3.05" />
<ellipse cx="972" cy="1096" rx="2.6" ry="3.6" fill="none" stroke="#141414" stroke-width="1.71" />
<ellipse cx="972" cy="1096" rx="1" ry="1.6" fill="none" stroke="#141414" stroke-width="0.98" />
<rect x="-4" y="-2" width="8" height="4" rx="2" fill="#fff" stroke="#141414" stroke-width="1.59" transform="translate(986 1092) rotate(-14)"/>
<rect x="-6" y="-4.2" width="12" height="8.4" rx="0.5" fill="#fff" stroke="#141414" stroke-width="1.59" transform="translate(1002 1088) skewY(-14)"/>
<rect x="-4.5" y="-1" width="9" height="3" rx="0" fill="#444" stroke="none" stroke-width="0" transform="translate(1002 1088) skewY(-14)"/>
<rect x="-6" y="-4.2" width="12" height="8.4" rx="0.5" fill="#fff" stroke="#141414" stroke-width="1.59" transform="translate(1021 1083.5) skewY(-14)"/>
<rect x="-4.5" y="-1" width="9" height="3" rx="0" fill="#444" stroke="none" stroke-width="0" transform="translate(1021 1083.5) skewY(-14)"/>
<ellipse cx="1040.5" cy="1078" rx="4.6" ry="6.5" fill="none" stroke="#141414" stroke-width="1.95" />
<path d="M910 1122 L912.5 1146 Q914 1152 921 1152.5 L930 1152 L955 1145 Q958.5 1144 958.5 1139 L958.5 1117" fill="none" stroke="#141414" stroke-width="1.59" />
<line x1="930" y1="1126" x2="931" y2="1152" stroke="#141414" stroke-width="1.1" />
<line x1="931" y1="1152" x2="957" y2="1144.5" stroke="#141414" stroke-width="0.98" />
<path d="M1049 1095.5 L1051 1109 Q1052 1114 1059 1114.5 L1066 1114.5 Q1075 1113.5 1076 1108 L1076.5 1089" fill="none" stroke="#141414" stroke-width="1.59" />
<path d="M881 605 L1044.75 566.25 L1043.5 1055 L880 1093.75 Z" fill="#cdc5e5" stroke="none" stroke-width="0" />
<line x1="882" y1="606" x2="1044" y2="567.5" stroke="#222" stroke-width="3.17" />
<line x1="881" y1="604.5" x2="880" y2="1093.75" stroke="#222" stroke-width="2.44" />
<line x1="884" y1="606" x2="883" y2="1093" stroke="#555" stroke-width="0.98" />
<line x1="1044.5" y1="566.5" x2="1043.5" y2="1055" stroke="#141414" stroke-width="1.95" />
<line x1="880" y1="1093.75" x2="1043.5" y2="1055" stroke="#141414" stroke-width="1.22" />
<rect x="872" y="610.5" width="9" height="11.5" rx="1" fill="#c4bce0" stroke="#333" stroke-width="1.22" />
<circle cx="877" cy="616" r="2.6" fill="none" stroke="#141414" stroke-width="1.1" />
<path d="M373.5 120.5 L482 120.5" fill="none" stroke="#7459b0" stroke-width="2" />
<path d="M406.3 415 L406.3 510.5 L363 551.5" fill="none" stroke="#7459b0" stroke-width="2" />
<circle cx="647.5" cy="223.8" r="195" fill="none" stroke="#7459b0" stroke-width="2.2" />
<circle cx="235.5" cy="699.5" r="195" fill="none" stroke="#7459b0" stroke-width="2.2" />
<path d="M1082.7 669 L1111 703 L1095 703.5 Q1089 760 1080.5 815 Q1075.5 760 1071 704 L1054.2 704.5 Z" fill="#7459b0" stroke="#fff" stroke-width="1" />
<path d="M813.8 98.8 L838.8 128.8 L823.3 128.8 Q819 180 812 227.5 Q808.5 180 805 128.8 L788 128.8 Z" fill="#7459b0" stroke="#fff" stroke-width="1" />
<path d="M966 815 Q900 826 838.5 837.5 L834.8 822.5 L811 859.5 L853.5 876.5 L848 860 Q902 836 966 815 Z" fill="#7459b0" stroke="#fff" stroke-width="1" />
<path d="M625 261.3 Q570 272 521.3 283.8 L516.3 270 L496.3 303.8 L536.3 318.8 L530 305 Q575 282 625 261.3 Z" fill="#7459b0" stroke="#fff" stroke-width="1" />
<path d="M381.3 631.3 Q335 638 292.5 645 L288.8 634 L267 659.5 L298.8 674.5 L296.3 662 Q337 648 381.3 631.3 Z" fill="#7459b0" stroke="#fff" stroke-width="1" />
<circle cx="30.6" cy="65.4" r="20" fill="#fff" stroke="#7459b0" stroke-width="1.4" />
<path d="M33.4 57.5 L33.4 74 L29.8 74 L29.8 62 L26 64.3 L26 61.2 L30.6 57.5 Z" fill="#7459b0" stroke="none" stroke-width="0" />
<circle cx="1123.5" cy="660.3" r="20" fill="#fff" stroke="#7459b0" stroke-width="1.4" />
<text x="1123.5" y="668.6" font-size="23" fill="#7459b0" font-weight="bold" text-anchor="middle" >2</text>
<circle cx="797" cy="818.5" r="20" fill="#fff" stroke="#7459b0" stroke-width="1.4" />
<text x="797" y="826.8" font-size="23" fill="#7459b0" font-weight="bold" text-anchor="middle" >3</text>
</svg>
</body></html>
